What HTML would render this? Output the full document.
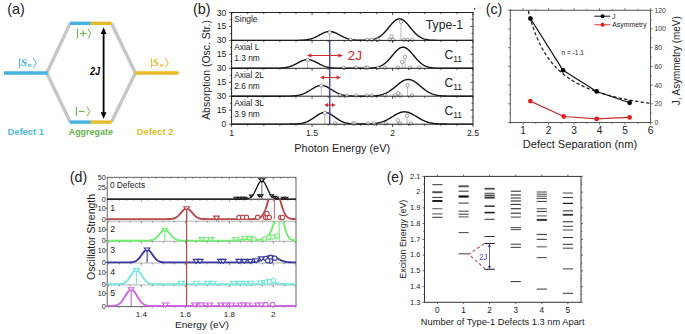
<!DOCTYPE html>
<html><head><meta charset="utf-8"><style>
html,body{margin:0;padding:0;background:#fff;}
svg{display:block;font-family:"Liberation Sans", sans-serif;}
</style></head><body>
<svg width="685" height="334" viewBox="0 0 685 334">
<rect width="685" height="334" fill="#fff"/>
<text x="7.30" y="14.30" font-size="14.5" fill="#222" text-anchor="start" textLength="17.6" lengthAdjust="spacingAndGlyphs">(a)</text>
<line x1="46.80" y1="73.00" x2="70.20" y2="23.30" stroke="#c6c6c6" stroke-width="3.4"/>
<line x1="46.80" y1="73.00" x2="70.20" y2="122.10" stroke="#c6c6c6" stroke-width="3.4"/>
<line x1="111.40" y1="23.30" x2="135.40" y2="73.00" stroke="#c6c6c6" stroke-width="3.4"/>
<line x1="111.40" y1="122.10" x2="135.40" y2="73.00" stroke="#c6c6c6" stroke-width="3.4"/>
<line x1="4.00" y1="73.00" x2="47.60" y2="73.00" stroke="#45b3e0" stroke-width="3.4"/>
<line x1="135.00" y1="73.00" x2="178.50" y2="73.00" stroke="#e6bb2a" stroke-width="3.4"/>
<line x1="69.80" y1="23.30" x2="90.80" y2="23.30" stroke="#45b3e0" stroke-width="3.4"/>
<line x1="90.80" y1="23.30" x2="111.60" y2="23.30" stroke="#e6bb2a" stroke-width="3.4"/>
<line x1="69.80" y1="122.10" x2="90.80" y2="122.10" stroke="#45b3e0" stroke-width="3.4"/>
<line x1="90.80" y1="122.10" x2="111.60" y2="122.10" stroke="#e6bb2a" stroke-width="3.4"/>
<line x1="103.60" y1="33.00" x2="103.60" y2="113.00" stroke="#000" stroke-width="1.8"/>
<polygon points="103.6,27.2 100.7,34.0 106.5,34.0" fill="#000"/>
<polygon points="103.6,119.0 100.7,112.2 106.5,112.2" fill="#000"/>
<text x="89.90" y="74.80" font-size="10" fill="#000" text-anchor="start" font-weight="bold" font-style="italic" textLength="10.2" lengthAdjust="spacingAndGlyphs">2J</text>
<line x1="77.50" y1="28.90" x2="77.50" y2="38.40" stroke="#6ab04c" stroke-width="1.1"/>
<line x1="79.90" y1="33.50" x2="86.50" y2="33.50" stroke="#6ab04c" stroke-width="1.1"/>
<line x1="83.20" y1="30.20" x2="83.20" y2="36.80" stroke="#6ab04c" stroke-width="1.1"/>
<polyline points="88.20,28.90 90.60,33.65 88.20,38.40" fill="none" stroke="#6ab04c" stroke-width="1.0" stroke-linejoin="miter"/>
<line x1="76.40" y1="106.70" x2="76.40" y2="116.10" stroke="#6ab04c" stroke-width="1.1"/>
<line x1="78.80" y1="111.40" x2="84.60" y2="111.40" stroke="#6ab04c" stroke-width="1.1"/>
<polyline points="86.90,106.70 89.90,111.40 86.90,116.10" fill="none" stroke="#6ab04c" stroke-width="1.0" stroke-linejoin="miter"/>
<line x1="19.60" y1="58.20" x2="19.60" y2="67.70" stroke="#45b3e0" stroke-width="1.1"/>
<text x="20.70" y="66.0" font-family="Liberation Serif" font-size="11.3" font-style="italic" font-weight="bold" fill="#45b3e0">S</text>
<text x="27.70" y="66.9" font-family="Liberation Serif" font-size="6.8" font-style="italic" font-weight="bold" fill="#45b3e0">n</text>
<polyline points="33.40,58.20 36.20,62.95 33.40,67.70" fill="none" stroke="#45b3e0" stroke-width="1.0" stroke-linejoin="miter"/>
<line x1="151.60" y1="58.20" x2="151.60" y2="67.70" stroke="#e6bb2a" stroke-width="1.1"/>
<text x="152.70" y="66.0" font-family="Liberation Serif" font-size="11.3" font-style="italic" font-weight="bold" fill="#e6bb2a">S</text>
<text x="159.70" y="66.9" font-family="Liberation Serif" font-size="6.8" font-style="italic" font-weight="bold" fill="#e6bb2a">n</text>
<polyline points="165.40,58.20 168.20,62.95 165.40,67.70" fill="none" stroke="#e6bb2a" stroke-width="1.0" stroke-linejoin="miter"/>
<text x="7.50" y="134.80" font-size="9.2" fill="#4cbcd8" text-anchor="start" font-weight="bold" textLength="36.5" lengthAdjust="spacingAndGlyphs">Defect 1</text>
<text x="68.70" y="134.90" font-size="9.2" fill="#6ab04c" text-anchor="start" font-weight="bold" textLength="44.2" lengthAdjust="spacingAndGlyphs">Aggregate</text>
<text x="136.80" y="135.00" font-size="9.2" fill="#d9bf2c" text-anchor="start" font-weight="bold" textLength="36.6" lengthAdjust="spacingAndGlyphs">Defect 2</text>
<text x="192.90" y="14.30" font-size="14.5" fill="#222" text-anchor="start" textLength="17.6" lengthAdjust="spacingAndGlyphs">(b)</text>
<line x1="329.60" y1="40.40" x2="329.60" y2="34.29" stroke="#b0b0b0" stroke-width="0.9"/>
<line x1="401.00" y1="40.40" x2="401.00" y2="23.51" stroke="#b0b0b0" stroke-width="0.9"/>
<line x1="391.50" y1="40.40" x2="391.50" y2="38.39" stroke="#b0b0b0" stroke-width="0.9"/>
<polyline points="231.60,40.40 232.40,40.40 233.21,40.40 234.01,40.40 234.82,40.40 235.62,40.40 236.43,40.40 237.23,40.40 238.04,40.40 238.84,40.40 239.65,40.40 240.45,40.40 241.26,40.40 242.06,40.40 242.87,40.40 243.67,40.40 244.47,40.40 245.28,40.40 246.08,40.40 246.89,40.40 247.69,40.40 248.50,40.40 249.30,40.40 250.11,40.40 250.91,40.40 251.72,40.40 252.52,40.40 253.33,40.40 254.13,40.40 254.94,40.40 255.74,40.40 256.54,40.40 257.35,40.40 258.15,40.40 258.96,40.40 259.76,40.40 260.57,40.40 261.37,40.40 262.18,40.40 262.98,40.40 263.79,40.40 264.59,40.40 265.40,40.40 266.20,40.40 267.01,40.40 267.81,40.40 268.61,40.40 269.42,40.40 270.22,40.40 271.03,40.40 271.83,40.40 272.64,40.40 273.44,40.40 274.25,40.40 275.05,40.40 275.86,40.40 276.66,40.40 277.47,40.40 278.27,40.40 279.08,40.40 279.88,40.40 280.68,40.40 281.49,40.40 282.29,40.40 283.10,40.40 283.90,40.40 284.71,40.40 285.51,40.40 286.32,40.40 287.12,40.40 287.93,40.40 288.73,40.40 289.54,40.40 290.34,40.40 291.15,40.39 291.95,40.39 292.75,40.39 293.56,40.39 294.36,40.38 295.17,40.38 295.97,40.37 296.78,40.36 297.58,40.35 298.39,40.33 299.19,40.31 300.00,40.29 300.80,40.26 301.61,40.23 302.41,40.18 303.22,40.13 304.02,40.07 304.82,39.99 305.63,39.90 306.43,39.80 307.24,39.68 308.04,39.53 308.85,39.37 309.65,39.19 310.46,38.98 311.26,38.75 312.07,38.49 312.87,38.21 313.68,37.90 314.48,37.57 315.29,37.21 316.09,36.83 316.89,36.43 317.70,36.02 318.50,35.59 319.31,35.15 320.11,34.72 320.92,34.29 321.72,33.86 322.53,33.46 323.33,33.07 324.14,32.71 324.94,32.39 325.75,32.11 326.55,31.88 327.36,31.70 328.16,31.56 328.96,31.49 329.77,31.47 330.57,31.51 331.38,31.61 332.18,31.77 332.99,31.97 333.79,32.23 334.60,32.52 335.40,32.86 336.21,33.23 337.01,33.62 337.82,34.04 338.62,34.47 339.43,34.90 340.23,35.34 341.03,35.77 341.84,36.19 342.64,36.60 343.45,36.99 344.25,37.36 345.06,37.71 345.86,38.03 346.67,38.33 347.47,38.60 348.28,38.85 349.08,39.07 349.89,39.27 350.69,39.44 351.50,39.60 352.30,39.73 353.10,39.84 353.91,39.94 354.71,40.02 355.52,40.09 356.32,40.15 357.13,40.19 357.93,40.23 358.74,40.26 359.54,40.28 360.35,40.30 361.15,40.31 361.96,40.31 362.76,40.31 363.57,40.30 364.37,40.29 365.17,40.27 365.98,40.24 366.78,40.20 367.59,40.16 368.39,40.10 369.20,40.03 370.00,39.94 370.81,39.84 371.61,39.71 372.42,39.56 373.22,39.39 374.03,39.18 374.83,38.95 375.64,38.67 376.44,38.36 377.24,38.00 378.05,37.59 378.85,37.14 379.66,36.63 380.46,36.07 381.27,35.45 382.07,34.78 382.88,34.06 383.68,33.28 384.49,32.45 385.29,31.58 386.10,30.67 386.90,29.72 387.71,28.75 388.51,27.77 389.31,26.78 390.12,25.79 390.92,24.83 391.73,23.89 392.53,23.00 393.34,22.17 394.14,21.40 394.95,20.72 395.75,20.13 396.56,19.64 397.36,19.26 398.17,18.99 398.97,18.85 399.78,18.83 400.58,18.94 401.38,19.16 402.19,19.50 402.99,19.96 403.80,20.52 404.60,21.18 405.41,21.92 406.21,22.73 407.02,23.60 407.82,24.53 408.63,25.48 409.43,26.46 410.24,27.45 411.04,28.44 411.85,29.42 412.65,30.37 413.45,31.30 414.26,32.18 415.06,33.03 415.87,33.82 416.67,34.56 417.48,35.25 418.28,35.88 419.09,36.46 419.89,36.98 420.70,37.45 421.50,37.87 422.31,38.25 423.11,38.58 423.92,38.86 424.72,39.11 425.52,39.33 426.33,39.51 427.13,39.67 427.94,39.80 428.74,39.91 429.55,40.01 430.35,40.08 431.16,40.15 431.96,40.20 432.77,40.24 433.57,40.27 434.38,40.30 435.18,40.32 435.99,40.34 436.79,40.35 437.59,40.37 438.40,40.37 439.20,40.38 440.01,40.39 440.81,40.39 441.62,40.39 442.42,40.39 443.23,40.40 444.03,40.40 444.84,40.40 445.64,40.40 446.45,40.40 447.25,40.40 448.06,40.40 448.86,40.40 449.66,40.40 450.47,40.40 451.27,40.40 452.08,40.40 452.88,40.40 453.69,40.40 454.49,40.40 455.30,40.40 456.10,40.40 456.91,40.40 457.71,40.40 458.52,40.40 459.32,40.40 460.13,40.40 460.93,40.40 461.73,40.40 462.54,40.40 463.34,40.40 464.15,40.40 464.95,40.40 465.76,40.40 466.56,40.40 467.37,40.40 468.17,40.40 468.98,40.40 469.78,40.40 470.59,40.40 471.39,40.40 472.20,40.40 473.00,40.40" fill="none" stroke="#111" stroke-width="1.4" stroke-linejoin="round"/>
<circle cx="329.60" cy="32.49" r="1.75" fill="#fff" stroke="#666" stroke-width="0.6"/>
<circle cx="401.00" cy="21.71" r="1.75" fill="#fff" stroke="#666" stroke-width="0.6"/>
<circle cx="391.50" cy="36.59" r="1.75" fill="#fff" stroke="#666" stroke-width="0.6"/>
<circle cx="350.70" cy="39.80" r="1.75" fill="#fff" stroke="#666" stroke-width="0.6"/>
<circle cx="367.20" cy="39.80" r="1.75" fill="#fff" stroke="#666" stroke-width="0.6"/>
<circle cx="371.70" cy="39.80" r="1.75" fill="#fff" stroke="#666" stroke-width="0.6"/>
<circle cx="378.00" cy="39.80" r="1.75" fill="#fff" stroke="#666" stroke-width="0.6"/>
<circle cx="389.70" cy="39.80" r="1.75" fill="#fff" stroke="#666" stroke-width="0.6"/>
<circle cx="393.30" cy="39.80" r="1.75" fill="#fff" stroke="#666" stroke-width="0.6"/>
<circle cx="404.00" cy="39.80" r="1.75" fill="#fff" stroke="#666" stroke-width="0.6"/>
<circle cx="407.60" cy="39.80" r="1.75" fill="#fff" stroke="#666" stroke-width="0.6"/>
<circle cx="412.10" cy="39.80" r="1.75" fill="#fff" stroke="#666" stroke-width="0.6"/>
<line x1="307.60" y1="68.30" x2="307.60" y2="61.73" stroke="#b0b0b0" stroke-width="0.9"/>
<line x1="405.00" y1="68.30" x2="405.00" y2="58.57" stroke="#b0b0b0" stroke-width="0.9"/>
<line x1="402.20" y1="68.30" x2="402.20" y2="63.68" stroke="#b0b0b0" stroke-width="0.9"/>
<polyline points="231.60,68.30 232.40,68.30 233.21,68.30 234.01,68.30 234.82,68.30 235.62,68.30 236.43,68.30 237.23,68.30 238.04,68.30 238.84,68.30 239.65,68.30 240.45,68.30 241.26,68.30 242.06,68.30 242.87,68.30 243.67,68.30 244.47,68.30 245.28,68.30 246.08,68.30 246.89,68.30 247.69,68.30 248.50,68.30 249.30,68.30 250.11,68.30 250.91,68.30 251.72,68.30 252.52,68.30 253.33,68.30 254.13,68.30 254.94,68.30 255.74,68.30 256.54,68.30 257.35,68.30 258.15,68.30 258.96,68.30 259.76,68.30 260.57,68.30 261.37,68.30 262.18,68.30 262.98,68.30 263.79,68.30 264.59,68.30 265.40,68.30 266.20,68.30 267.01,68.30 267.81,68.30 268.61,68.30 269.42,68.29 270.22,68.29 271.03,68.29 271.83,68.29 272.64,68.28 273.44,68.28 274.25,68.27 275.05,68.26 275.86,68.24 276.66,68.23 277.47,68.21 278.27,68.18 279.08,68.15 279.88,68.12 280.68,68.07 281.49,68.02 282.29,67.95 283.10,67.87 283.90,67.78 284.71,67.67 285.51,67.55 286.32,67.40 287.12,67.24 287.93,67.05 288.73,66.84 289.54,66.60 290.34,66.34 291.15,66.06 291.95,65.74 292.75,65.41 293.56,65.05 294.36,64.67 295.17,64.28 295.97,63.87 296.78,63.45 297.58,63.02 298.39,62.59 299.19,62.17 300.00,61.76 300.80,61.37 301.61,61.00 302.41,60.66 303.22,60.36 304.02,60.10 304.82,59.89 305.63,59.73 306.43,59.62 307.24,59.56 308.04,59.57 308.85,59.63 309.65,59.74 310.46,59.91 311.26,60.13 312.07,60.39 312.87,60.70 313.68,61.04 314.48,61.41 315.29,61.80 316.09,62.21 316.89,62.64 317.70,63.06 318.50,63.49 319.31,63.91 320.11,64.32 320.92,64.71 321.72,65.09 322.53,65.45 323.33,65.78 324.14,66.09 324.94,66.37 325.75,66.63 326.55,66.86 327.36,67.07 328.16,67.25 328.96,67.42 329.77,67.56 330.57,67.68 331.38,67.79 332.18,67.88 332.99,67.96 333.79,68.02 334.60,68.08 335.40,68.12 336.21,68.16 337.01,68.19 337.82,68.21 338.62,68.23 339.43,68.25 340.23,68.26 341.03,68.27 341.84,68.28 342.64,68.28 343.45,68.29 344.25,68.29 345.06,68.29 345.86,68.29 346.67,68.30 347.47,68.30 348.28,68.30 349.08,68.30 349.89,68.30 350.69,68.30 351.50,68.30 352.30,68.30 353.10,68.30 353.91,68.30 354.71,68.30 355.52,68.30 356.32,68.30 357.13,68.30 357.93,68.30 358.74,68.30 359.54,68.30 360.35,68.29 361.15,68.29 361.96,68.29 362.76,68.28 363.57,68.28 364.37,68.27 365.17,68.26 365.98,68.25 366.78,68.24 367.59,68.22 368.39,68.20 369.20,68.17 370.00,68.13 370.81,68.09 371.61,68.03 372.42,67.97 373.22,67.89 374.03,67.79 374.83,67.67 375.64,67.54 376.44,67.37 377.24,67.18 378.05,66.96 378.85,66.71 379.66,66.41 380.46,66.08 381.27,65.70 382.07,65.27 382.88,64.79 383.68,64.26 384.49,63.68 385.29,63.04 386.10,62.35 386.90,61.61 387.71,60.81 388.51,59.97 389.31,59.09 390.12,58.18 390.92,57.24 391.73,56.28 392.53,55.31 393.34,54.34 394.14,53.39 394.95,52.46 395.75,51.57 396.56,50.74 397.36,49.96 398.17,49.27 398.97,48.65 399.78,48.14 400.58,47.73 401.38,47.43 402.19,47.25 402.99,47.19 403.80,47.25 404.60,47.43 405.41,47.72 406.21,48.13 407.02,48.65 407.82,49.26 408.63,49.95 409.43,50.72 410.24,51.56 411.04,52.45 411.85,53.37 412.65,54.33 413.45,55.29 414.26,56.26 415.06,57.22 415.87,58.17 416.67,59.08 417.48,59.96 418.28,60.80 419.09,61.60 419.89,62.34 420.70,63.03 421.50,63.67 422.31,64.25 423.11,64.78 423.92,65.26 424.72,65.69 425.52,66.07 426.33,66.41 427.13,66.70 427.94,66.96 428.74,67.18 429.55,67.37 430.35,67.53 431.16,67.67 431.96,67.79 432.77,67.88 433.57,67.96 434.38,68.03 435.18,68.09 435.99,68.13 436.79,68.17 437.59,68.20 438.40,68.22 439.20,68.24 440.01,68.25 440.81,68.26 441.62,68.27 442.42,68.28 443.23,68.28 444.03,68.29 444.84,68.29 445.64,68.29 446.45,68.30 447.25,68.30 448.06,68.30 448.86,68.30 449.66,68.30 450.47,68.30 451.27,68.30 452.08,68.30 452.88,68.30 453.69,68.30 454.49,68.30 455.30,68.30 456.10,68.30 456.91,68.30 457.71,68.30 458.52,68.30 459.32,68.30 460.13,68.30 460.93,68.30 461.73,68.30 462.54,68.30 463.34,68.30 464.15,68.30 464.95,68.30 465.76,68.30 466.56,68.30 467.37,68.30 468.17,68.30 468.98,68.30 469.78,68.30 470.59,68.30 471.39,68.30 472.20,68.30 473.00,68.30" fill="none" stroke="#111" stroke-width="1.4" stroke-linejoin="round"/>
<circle cx="307.60" cy="59.93" r="1.75" fill="#fff" stroke="#666" stroke-width="0.6"/>
<circle cx="405.00" cy="56.77" r="1.75" fill="#fff" stroke="#666" stroke-width="0.6"/>
<circle cx="402.20" cy="61.88" r="1.75" fill="#fff" stroke="#666" stroke-width="0.6"/>
<circle cx="343.70" cy="67.70" r="1.75" fill="#fff" stroke="#666" stroke-width="0.6"/>
<circle cx="356.20" cy="67.70" r="1.75" fill="#fff" stroke="#666" stroke-width="0.6"/>
<circle cx="365.40" cy="67.70" r="1.75" fill="#fff" stroke="#666" stroke-width="0.6"/>
<circle cx="367.40" cy="67.70" r="1.75" fill="#fff" stroke="#666" stroke-width="0.6"/>
<circle cx="378.00" cy="67.70" r="1.75" fill="#fff" stroke="#666" stroke-width="0.6"/>
<circle cx="385.00" cy="67.70" r="1.75" fill="#fff" stroke="#666" stroke-width="0.6"/>
<circle cx="398.00" cy="67.70" r="1.75" fill="#fff" stroke="#666" stroke-width="0.6"/>
<circle cx="410.00" cy="67.70" r="1.75" fill="#fff" stroke="#666" stroke-width="0.6"/>
<circle cx="419.00" cy="67.70" r="1.75" fill="#fff" stroke="#666" stroke-width="0.6"/>
<line x1="321.30" y1="96.20" x2="321.30" y2="87.40" stroke="#b0b0b0" stroke-width="0.9"/>
<line x1="407.60" y1="96.20" x2="407.60" y2="87.03" stroke="#b0b0b0" stroke-width="0.9"/>
<line x1="398.10" y1="96.20" x2="398.10" y2="95.02" stroke="#b0b0b0" stroke-width="0.9"/>
<polyline points="231.60,96.20 232.40,96.20 233.21,96.20 234.01,96.20 234.82,96.20 235.62,96.20 236.43,96.20 237.23,96.20 238.04,96.20 238.84,96.20 239.65,96.20 240.45,96.20 241.26,96.20 242.06,96.20 242.87,96.20 243.67,96.20 244.47,96.20 245.28,96.20 246.08,96.20 246.89,96.20 247.69,96.20 248.50,96.20 249.30,96.20 250.11,96.20 250.91,96.20 251.72,96.20 252.52,96.20 253.33,96.20 254.13,96.20 254.94,96.20 255.74,96.20 256.54,96.20 257.35,96.20 258.15,96.20 258.96,96.20 259.76,96.20 260.57,96.20 261.37,96.20 262.18,96.20 262.98,96.20 263.79,96.20 264.59,96.20 265.40,96.20 266.20,96.20 267.01,96.20 267.81,96.20 268.61,96.20 269.42,96.20 270.22,96.20 271.03,96.20 271.83,96.20 272.64,96.20 273.44,96.20 274.25,96.20 275.05,96.20 275.86,96.20 276.66,96.20 277.47,96.20 278.27,96.20 279.08,96.20 279.88,96.20 280.68,96.20 281.49,96.19 282.29,96.19 283.10,96.19 283.90,96.19 284.71,96.18 285.51,96.17 286.32,96.17 287.12,96.16 287.93,96.14 288.73,96.13 289.54,96.11 290.34,96.08 291.15,96.05 291.95,96.01 292.75,95.97 293.56,95.91 294.36,95.85 295.17,95.77 295.97,95.68 296.78,95.57 297.58,95.44 298.39,95.29 299.19,95.12 300.00,94.93 300.80,94.71 301.61,94.47 302.41,94.19 303.22,93.89 304.02,93.56 304.82,93.20 305.63,92.81 306.43,92.39 307.24,91.95 308.04,91.49 308.85,91.01 309.65,90.51 310.46,90.00 311.26,89.49 312.07,88.98 312.87,88.48 313.68,88.00 314.48,87.54 315.29,87.10 316.09,86.71 316.89,86.35 317.70,86.05 318.50,85.80 319.31,85.61 320.11,85.48 320.92,85.42 321.72,85.42 322.53,85.49 323.33,85.62 324.14,85.81 324.94,86.07 325.75,86.37 326.55,86.73 327.36,87.12 328.16,87.56 328.96,88.02 329.77,88.51 330.57,89.01 331.38,89.52 332.18,90.03 332.99,90.53 333.79,91.03 334.60,91.51 335.40,91.97 336.21,92.41 337.01,92.83 337.82,93.22 338.62,93.58 339.43,93.91 340.23,94.21 341.03,94.48 341.84,94.72 342.64,94.94 343.45,95.13 344.25,95.30 345.06,95.45 345.86,95.57 346.67,95.68 347.47,95.77 348.28,95.85 349.08,95.92 349.89,95.97 350.69,96.02 351.50,96.05 352.30,96.08 353.10,96.11 353.91,96.13 354.71,96.14 355.52,96.16 356.32,96.17 357.13,96.17 357.93,96.18 358.74,96.18 359.54,96.18 360.35,96.19 361.15,96.19 361.96,96.18 362.76,96.18 363.57,96.18 364.37,96.18 365.17,96.17 365.98,96.16 366.78,96.15 367.59,96.14 368.39,96.13 369.20,96.11 370.00,96.09 370.81,96.06 371.61,96.03 372.42,95.99 373.22,95.95 374.03,95.90 374.83,95.83 375.64,95.76 376.44,95.67 377.24,95.58 378.05,95.46 378.85,95.33 379.66,95.18 380.46,95.01 381.27,94.81 382.07,94.59 382.88,94.35 383.68,94.07 384.49,93.77 385.29,93.44 386.10,93.07 386.90,92.67 387.71,92.24 388.51,91.78 389.31,91.28 390.12,90.75 390.92,90.19 391.73,89.60 392.53,88.99 393.34,88.36 394.14,87.70 394.95,87.04 395.75,86.36 396.56,85.69 397.36,85.01 398.17,84.35 398.97,83.70 399.78,83.08 400.58,82.48 401.38,81.93 402.19,81.41 402.99,80.95 403.80,80.54 404.60,80.19 405.41,79.90 406.21,79.69 407.02,79.54 407.82,79.47 408.63,79.47 409.43,79.55 410.24,79.70 411.04,79.92 411.85,80.21 412.65,80.56 413.45,80.97 414.26,81.44 415.06,81.96 415.87,82.52 416.67,83.12 417.48,83.74 418.28,84.39 419.09,85.06 419.89,85.73 420.70,86.41 421.50,87.08 422.31,87.74 423.11,88.40 423.92,89.03 424.72,89.64 425.52,90.22 426.33,90.78 427.13,91.31 427.94,91.80 428.74,92.27 429.55,92.70 430.35,93.09 431.16,93.46 431.96,93.79 432.77,94.09 433.57,94.36 434.38,94.61 435.18,94.82 435.99,95.02 436.79,95.19 437.59,95.34 438.40,95.47 439.20,95.58 440.01,95.68 440.81,95.77 441.62,95.84 442.42,95.90 443.23,95.95 444.03,96.00 444.84,96.03 445.64,96.06 446.45,96.09 447.25,96.11 448.06,96.13 448.86,96.14 449.66,96.15 450.47,96.16 451.27,96.17 452.08,96.18 452.88,96.18 453.69,96.19 454.49,96.19 455.30,96.19 456.10,96.19 456.91,96.20 457.71,96.20 458.52,96.20 459.32,96.20 460.13,96.20 460.93,96.20 461.73,96.20 462.54,96.20 463.34,96.20 464.15,96.20 464.95,96.20 465.76,96.20 466.56,96.20 467.37,96.20 468.17,96.20 468.98,96.20 469.78,96.20 470.59,96.20 471.39,96.20 472.20,96.20 473.00,96.20" fill="none" stroke="#111" stroke-width="1.4" stroke-linejoin="round"/>
<circle cx="321.30" cy="85.60" r="1.75" fill="#fff" stroke="#666" stroke-width="0.6"/>
<circle cx="407.60" cy="85.23" r="1.75" fill="#fff" stroke="#666" stroke-width="0.6"/>
<circle cx="398.10" cy="93.22" r="1.75" fill="#fff" stroke="#666" stroke-width="0.6"/>
<circle cx="340.00" cy="95.60" r="1.75" fill="#fff" stroke="#666" stroke-width="0.6"/>
<circle cx="346.90" cy="95.60" r="1.75" fill="#fff" stroke="#666" stroke-width="0.6"/>
<circle cx="356.40" cy="95.60" r="1.75" fill="#fff" stroke="#666" stroke-width="0.6"/>
<circle cx="366.90" cy="95.60" r="1.75" fill="#fff" stroke="#666" stroke-width="0.6"/>
<circle cx="371.70" cy="95.60" r="1.75" fill="#fff" stroke="#666" stroke-width="0.6"/>
<circle cx="385.20" cy="95.60" r="1.75" fill="#fff" stroke="#666" stroke-width="0.6"/>
<circle cx="395.00" cy="95.60" r="1.75" fill="#fff" stroke="#666" stroke-width="0.6"/>
<circle cx="400.40" cy="95.60" r="1.75" fill="#fff" stroke="#666" stroke-width="0.6"/>
<circle cx="411.80" cy="95.60" r="1.75" fill="#fff" stroke="#666" stroke-width="0.6"/>
<line x1="324.80" y1="124.10" x2="324.80" y2="114.74" stroke="#b0b0b0" stroke-width="0.9"/>
<line x1="407.10" y1="124.10" x2="407.10" y2="117.53" stroke="#b0b0b0" stroke-width="0.9"/>
<line x1="397.80" y1="124.10" x2="397.80" y2="121.90" stroke="#b0b0b0" stroke-width="0.9"/>
<polyline points="231.60,124.10 232.40,124.10 233.21,124.10 234.01,124.10 234.82,124.10 235.62,124.10 236.43,124.10 237.23,124.10 238.04,124.10 238.84,124.10 239.65,124.10 240.45,124.10 241.26,124.10 242.06,124.10 242.87,124.10 243.67,124.10 244.47,124.10 245.28,124.10 246.08,124.10 246.89,124.10 247.69,124.10 248.50,124.10 249.30,124.10 250.11,124.10 250.91,124.10 251.72,124.10 252.52,124.10 253.33,124.10 254.13,124.10 254.94,124.10 255.74,124.10 256.54,124.10 257.35,124.10 258.15,124.10 258.96,124.10 259.76,124.10 260.57,124.10 261.37,124.10 262.18,124.10 262.98,124.10 263.79,124.10 264.59,124.10 265.40,124.10 266.20,124.10 267.01,124.10 267.81,124.10 268.61,124.10 269.42,124.10 270.22,124.10 271.03,124.10 271.83,124.10 272.64,124.10 273.44,124.10 274.25,124.10 275.05,124.10 275.86,124.10 276.66,124.10 277.47,124.10 278.27,124.10 279.08,124.10 279.88,124.10 280.68,124.10 281.49,124.10 282.29,124.10 283.10,124.10 283.90,124.10 284.71,124.10 285.51,124.10 286.32,124.09 287.12,124.09 287.93,124.09 288.73,124.08 289.54,124.08 290.34,124.07 291.15,124.06 291.95,124.05 292.75,124.03 293.56,124.01 294.36,123.99 295.17,123.96 295.97,123.92 296.78,123.87 297.58,123.82 298.39,123.75 299.19,123.67 300.00,123.57 300.80,123.46 301.61,123.32 302.41,123.16 303.22,122.98 304.02,122.77 304.82,122.53 305.63,122.26 306.43,121.96 307.24,121.63 308.04,121.26 308.85,120.86 309.65,120.43 310.46,119.96 311.26,119.47 312.07,118.95 312.87,118.41 313.68,117.86 314.48,117.29 315.29,116.72 316.09,116.16 316.89,115.61 317.70,115.08 318.50,114.57 319.31,114.11 320.11,113.69 320.92,113.32 321.72,113.01 322.53,112.77 323.33,112.60 324.14,112.50 324.94,112.48 325.75,112.53 326.55,112.65 327.36,112.85 328.16,113.12 328.96,113.44 329.77,113.83 330.57,114.27 331.38,114.75 332.18,115.26 332.99,115.80 333.79,116.36 334.60,116.92 335.40,117.49 336.21,118.05 337.01,118.60 337.82,119.14 338.62,119.65 339.43,120.13 340.23,120.58 341.03,121.01 341.84,121.40 342.64,121.75 343.45,122.07 344.25,122.36 345.06,122.62 345.86,122.85 346.67,123.05 347.47,123.22 348.28,123.37 349.08,123.50 349.89,123.61 350.69,123.70 351.50,123.77 352.30,123.84 353.10,123.89 353.91,123.93 354.71,123.97 355.52,124.00 356.32,124.02 357.13,124.03 357.93,124.05 358.74,124.05 359.54,124.06 360.35,124.06 361.15,124.07 361.96,124.06 362.76,124.06 363.57,124.05 364.37,124.05 365.17,124.04 365.98,124.02 366.78,124.01 367.59,123.98 368.39,123.96 369.20,123.93 370.00,123.89 370.81,123.85 371.61,123.80 372.42,123.74 373.22,123.67 374.03,123.59 374.83,123.50 375.64,123.40 376.44,123.28 377.24,123.14 378.05,122.99 378.85,122.82 379.66,122.62 380.46,122.41 381.27,122.17 382.07,121.92 382.88,121.63 383.68,121.33 384.49,121.00 385.29,120.64 386.10,120.26 386.90,119.86 387.71,119.44 388.51,119.00 389.31,118.54 390.12,118.06 390.92,117.58 391.73,117.09 392.53,116.59 393.34,116.10 394.14,115.61 394.95,115.12 395.75,114.66 396.56,114.21 397.36,113.79 398.17,113.40 398.97,113.05 399.78,112.73 400.58,112.45 401.38,112.23 402.19,112.05 402.99,111.92 403.80,111.84 404.60,111.82 405.41,111.86 406.21,111.95 407.02,112.09 407.82,112.28 408.63,112.52 409.43,112.81 410.24,113.13 411.04,113.50 411.85,113.90 412.65,114.33 413.45,114.78 414.26,115.25 415.06,115.73 415.87,116.22 416.67,116.72 417.48,117.21 418.28,117.70 419.09,118.19 419.89,118.66 420.70,119.11 421.50,119.55 422.31,119.96 423.11,120.36 423.92,120.73 424.72,121.08 425.52,121.41 426.33,121.71 427.13,121.98 427.94,122.24 428.74,122.47 429.55,122.67 430.35,122.86 431.16,123.03 431.96,123.18 432.77,123.31 433.57,123.42 434.38,123.53 435.18,123.61 435.99,123.69 436.79,123.76 437.59,123.81 438.40,123.86 439.20,123.90 440.01,123.94 440.81,123.97 441.62,123.99 442.42,124.01 443.23,124.03 444.03,124.04 444.84,124.05 445.64,124.06 446.45,124.07 447.25,124.08 448.06,124.08 448.86,124.09 449.66,124.09 450.47,124.09 451.27,124.09 452.08,124.09 452.88,124.10 453.69,124.10 454.49,124.10 455.30,124.10 456.10,124.10 456.91,124.10 457.71,124.10 458.52,124.10 459.32,124.10 460.13,124.10 460.93,124.10 461.73,124.10 462.54,124.10 463.34,124.10 464.15,124.10 464.95,124.10 465.76,124.10 466.56,124.10 467.37,124.10 468.17,124.10 468.98,124.10 469.78,124.10 470.59,124.10 471.39,124.10 472.20,124.10 473.00,124.10" fill="none" stroke="#111" stroke-width="1.4" stroke-linejoin="round"/>
<circle cx="324.80" cy="112.94" r="1.75" fill="#fff" stroke="#666" stroke-width="0.6"/>
<circle cx="407.10" cy="115.73" r="1.75" fill="#fff" stroke="#666" stroke-width="0.6"/>
<circle cx="397.80" cy="120.10" r="1.75" fill="#fff" stroke="#666" stroke-width="0.6"/>
<circle cx="335.20" cy="123.50" r="1.75" fill="#fff" stroke="#666" stroke-width="0.6"/>
<circle cx="353.00" cy="123.50" r="1.75" fill="#fff" stroke="#666" stroke-width="0.6"/>
<circle cx="354.70" cy="123.50" r="1.75" fill="#fff" stroke="#666" stroke-width="0.6"/>
<circle cx="368.00" cy="123.50" r="1.75" fill="#fff" stroke="#666" stroke-width="0.6"/>
<circle cx="374.00" cy="123.50" r="1.75" fill="#fff" stroke="#666" stroke-width="0.6"/>
<circle cx="386.00" cy="123.50" r="1.75" fill="#fff" stroke="#666" stroke-width="0.6"/>
<circle cx="400.00" cy="123.50" r="1.75" fill="#fff" stroke="#666" stroke-width="0.6"/>
<circle cx="411.00" cy="123.50" r="1.75" fill="#fff" stroke="#666" stroke-width="0.6"/>
<line x1="329.77" y1="40.40" x2="329.77" y2="124.20" stroke="#3434c4" stroke-width="1.3"/>
<rect x="231.6" y="12.5" width="241.4" height="111.7" fill="none" stroke="#222" stroke-width="1"/>
<line x1="231.60" y1="40.40" x2="473.00" y2="40.40" stroke="#222" stroke-width="1"/>
<line x1="231.60" y1="68.30" x2="473.00" y2="68.30" stroke="#222" stroke-width="1"/>
<line x1="231.60" y1="96.20" x2="473.00" y2="96.20" stroke="#222" stroke-width="1"/>
<line x1="231.60" y1="12.50" x2="231.60" y2="15.00" stroke="#222" stroke-width="0.8"/>
<line x1="247.69" y1="12.50" x2="247.69" y2="14.10" stroke="#222" stroke-width="0.8"/>
<line x1="263.79" y1="12.50" x2="263.79" y2="14.10" stroke="#222" stroke-width="0.8"/>
<line x1="279.88" y1="12.50" x2="279.88" y2="14.10" stroke="#222" stroke-width="0.8"/>
<line x1="295.97" y1="12.50" x2="295.97" y2="14.10" stroke="#222" stroke-width="0.8"/>
<line x1="312.07" y1="12.50" x2="312.07" y2="15.00" stroke="#222" stroke-width="0.8"/>
<line x1="328.16" y1="12.50" x2="328.16" y2="14.10" stroke="#222" stroke-width="0.8"/>
<line x1="344.25" y1="12.50" x2="344.25" y2="14.10" stroke="#222" stroke-width="0.8"/>
<line x1="360.35" y1="12.50" x2="360.35" y2="14.10" stroke="#222" stroke-width="0.8"/>
<line x1="376.44" y1="12.50" x2="376.44" y2="14.10" stroke="#222" stroke-width="0.8"/>
<line x1="392.53" y1="12.50" x2="392.53" y2="15.00" stroke="#222" stroke-width="0.8"/>
<line x1="408.63" y1="12.50" x2="408.63" y2="14.10" stroke="#222" stroke-width="0.8"/>
<line x1="424.72" y1="12.50" x2="424.72" y2="14.10" stroke="#222" stroke-width="0.8"/>
<line x1="440.81" y1="12.50" x2="440.81" y2="14.10" stroke="#222" stroke-width="0.8"/>
<line x1="456.91" y1="12.50" x2="456.91" y2="14.10" stroke="#222" stroke-width="0.8"/>
<line x1="473.00" y1="12.50" x2="473.00" y2="15.00" stroke="#222" stroke-width="0.8"/>
<line x1="230.10" y1="33.42" x2="231.60" y2="33.42" stroke="#222" stroke-width="0.8"/>
<line x1="473.00" y1="33.42" x2="471.50" y2="33.42" stroke="#222" stroke-width="0.8"/>
<line x1="229.00" y1="26.45" x2="231.60" y2="26.45" stroke="#222" stroke-width="0.8"/>
<line x1="473.00" y1="26.45" x2="470.40" y2="26.45" stroke="#222" stroke-width="0.8"/>
<line x1="230.10" y1="19.47" x2="231.60" y2="19.47" stroke="#222" stroke-width="0.8"/>
<line x1="473.00" y1="19.47" x2="471.50" y2="19.47" stroke="#222" stroke-width="0.8"/>
<line x1="229.00" y1="12.50" x2="231.60" y2="12.50" stroke="#222" stroke-width="0.8"/>
<line x1="473.00" y1="12.50" x2="470.40" y2="12.50" stroke="#222" stroke-width="0.8"/>
<text x="226.20" y="15.50" font-size="8.6" fill="#222" text-anchor="end">30</text>
<text x="226.20" y="29.45" font-size="8.6" fill="#222" text-anchor="end">15</text>
<line x1="231.60" y1="40.40" x2="231.60" y2="42.90" stroke="#222" stroke-width="0.8"/>
<line x1="247.69" y1="40.40" x2="247.69" y2="42.00" stroke="#222" stroke-width="0.8"/>
<line x1="263.79" y1="40.40" x2="263.79" y2="42.00" stroke="#222" stroke-width="0.8"/>
<line x1="279.88" y1="40.40" x2="279.88" y2="42.00" stroke="#222" stroke-width="0.8"/>
<line x1="295.97" y1="40.40" x2="295.97" y2="42.00" stroke="#222" stroke-width="0.8"/>
<line x1="312.07" y1="40.40" x2="312.07" y2="42.90" stroke="#222" stroke-width="0.8"/>
<line x1="328.16" y1="40.40" x2="328.16" y2="42.00" stroke="#222" stroke-width="0.8"/>
<line x1="344.25" y1="40.40" x2="344.25" y2="42.00" stroke="#222" stroke-width="0.8"/>
<line x1="360.35" y1="40.40" x2="360.35" y2="42.00" stroke="#222" stroke-width="0.8"/>
<line x1="376.44" y1="40.40" x2="376.44" y2="42.00" stroke="#222" stroke-width="0.8"/>
<line x1="392.53" y1="40.40" x2="392.53" y2="42.90" stroke="#222" stroke-width="0.8"/>
<line x1="408.63" y1="40.40" x2="408.63" y2="42.00" stroke="#222" stroke-width="0.8"/>
<line x1="424.72" y1="40.40" x2="424.72" y2="42.00" stroke="#222" stroke-width="0.8"/>
<line x1="440.81" y1="40.40" x2="440.81" y2="42.00" stroke="#222" stroke-width="0.8"/>
<line x1="456.91" y1="40.40" x2="456.91" y2="42.00" stroke="#222" stroke-width="0.8"/>
<line x1="473.00" y1="40.40" x2="473.00" y2="42.90" stroke="#222" stroke-width="0.8"/>
<line x1="230.10" y1="61.32" x2="231.60" y2="61.32" stroke="#222" stroke-width="0.8"/>
<line x1="473.00" y1="61.32" x2="471.50" y2="61.32" stroke="#222" stroke-width="0.8"/>
<line x1="229.00" y1="54.35" x2="231.60" y2="54.35" stroke="#222" stroke-width="0.8"/>
<line x1="473.00" y1="54.35" x2="470.40" y2="54.35" stroke="#222" stroke-width="0.8"/>
<line x1="230.10" y1="47.38" x2="231.60" y2="47.38" stroke="#222" stroke-width="0.8"/>
<line x1="473.00" y1="47.38" x2="471.50" y2="47.38" stroke="#222" stroke-width="0.8"/>
<line x1="229.00" y1="40.40" x2="231.60" y2="40.40" stroke="#222" stroke-width="0.8"/>
<line x1="473.00" y1="40.40" x2="470.40" y2="40.40" stroke="#222" stroke-width="0.8"/>
<text x="226.20" y="43.40" font-size="8.6" fill="#222" text-anchor="end">30</text>
<text x="226.20" y="57.35" font-size="8.6" fill="#222" text-anchor="end">15</text>
<line x1="231.60" y1="68.30" x2="231.60" y2="70.80" stroke="#222" stroke-width="0.8"/>
<line x1="247.69" y1="68.30" x2="247.69" y2="69.90" stroke="#222" stroke-width="0.8"/>
<line x1="263.79" y1="68.30" x2="263.79" y2="69.90" stroke="#222" stroke-width="0.8"/>
<line x1="279.88" y1="68.30" x2="279.88" y2="69.90" stroke="#222" stroke-width="0.8"/>
<line x1="295.97" y1="68.30" x2="295.97" y2="69.90" stroke="#222" stroke-width="0.8"/>
<line x1="312.07" y1="68.30" x2="312.07" y2="70.80" stroke="#222" stroke-width="0.8"/>
<line x1="328.16" y1="68.30" x2="328.16" y2="69.90" stroke="#222" stroke-width="0.8"/>
<line x1="344.25" y1="68.30" x2="344.25" y2="69.90" stroke="#222" stroke-width="0.8"/>
<line x1="360.35" y1="68.30" x2="360.35" y2="69.90" stroke="#222" stroke-width="0.8"/>
<line x1="376.44" y1="68.30" x2="376.44" y2="69.90" stroke="#222" stroke-width="0.8"/>
<line x1="392.53" y1="68.30" x2="392.53" y2="70.80" stroke="#222" stroke-width="0.8"/>
<line x1="408.63" y1="68.30" x2="408.63" y2="69.90" stroke="#222" stroke-width="0.8"/>
<line x1="424.72" y1="68.30" x2="424.72" y2="69.90" stroke="#222" stroke-width="0.8"/>
<line x1="440.81" y1="68.30" x2="440.81" y2="69.90" stroke="#222" stroke-width="0.8"/>
<line x1="456.91" y1="68.30" x2="456.91" y2="69.90" stroke="#222" stroke-width="0.8"/>
<line x1="473.00" y1="68.30" x2="473.00" y2="70.80" stroke="#222" stroke-width="0.8"/>
<line x1="230.10" y1="89.22" x2="231.60" y2="89.22" stroke="#222" stroke-width="0.8"/>
<line x1="473.00" y1="89.22" x2="471.50" y2="89.22" stroke="#222" stroke-width="0.8"/>
<line x1="229.00" y1="82.25" x2="231.60" y2="82.25" stroke="#222" stroke-width="0.8"/>
<line x1="473.00" y1="82.25" x2="470.40" y2="82.25" stroke="#222" stroke-width="0.8"/>
<line x1="230.10" y1="75.27" x2="231.60" y2="75.27" stroke="#222" stroke-width="0.8"/>
<line x1="473.00" y1="75.27" x2="471.50" y2="75.27" stroke="#222" stroke-width="0.8"/>
<line x1="229.00" y1="68.30" x2="231.60" y2="68.30" stroke="#222" stroke-width="0.8"/>
<line x1="473.00" y1="68.30" x2="470.40" y2="68.30" stroke="#222" stroke-width="0.8"/>
<text x="226.20" y="71.30" font-size="8.6" fill="#222" text-anchor="end">30</text>
<text x="226.20" y="85.25" font-size="8.6" fill="#222" text-anchor="end">15</text>
<line x1="231.60" y1="96.20" x2="231.60" y2="98.70" stroke="#222" stroke-width="0.8"/>
<line x1="247.69" y1="96.20" x2="247.69" y2="97.80" stroke="#222" stroke-width="0.8"/>
<line x1="263.79" y1="96.20" x2="263.79" y2="97.80" stroke="#222" stroke-width="0.8"/>
<line x1="279.88" y1="96.20" x2="279.88" y2="97.80" stroke="#222" stroke-width="0.8"/>
<line x1="295.97" y1="96.20" x2="295.97" y2="97.80" stroke="#222" stroke-width="0.8"/>
<line x1="312.07" y1="96.20" x2="312.07" y2="98.70" stroke="#222" stroke-width="0.8"/>
<line x1="328.16" y1="96.20" x2="328.16" y2="97.80" stroke="#222" stroke-width="0.8"/>
<line x1="344.25" y1="96.20" x2="344.25" y2="97.80" stroke="#222" stroke-width="0.8"/>
<line x1="360.35" y1="96.20" x2="360.35" y2="97.80" stroke="#222" stroke-width="0.8"/>
<line x1="376.44" y1="96.20" x2="376.44" y2="97.80" stroke="#222" stroke-width="0.8"/>
<line x1="392.53" y1="96.20" x2="392.53" y2="98.70" stroke="#222" stroke-width="0.8"/>
<line x1="408.63" y1="96.20" x2="408.63" y2="97.80" stroke="#222" stroke-width="0.8"/>
<line x1="424.72" y1="96.20" x2="424.72" y2="97.80" stroke="#222" stroke-width="0.8"/>
<line x1="440.81" y1="96.20" x2="440.81" y2="97.80" stroke="#222" stroke-width="0.8"/>
<line x1="456.91" y1="96.20" x2="456.91" y2="97.80" stroke="#222" stroke-width="0.8"/>
<line x1="473.00" y1="96.20" x2="473.00" y2="98.70" stroke="#222" stroke-width="0.8"/>
<line x1="230.10" y1="117.12" x2="231.60" y2="117.12" stroke="#222" stroke-width="0.8"/>
<line x1="473.00" y1="117.12" x2="471.50" y2="117.12" stroke="#222" stroke-width="0.8"/>
<line x1="229.00" y1="110.15" x2="231.60" y2="110.15" stroke="#222" stroke-width="0.8"/>
<line x1="473.00" y1="110.15" x2="470.40" y2="110.15" stroke="#222" stroke-width="0.8"/>
<line x1="230.10" y1="103.17" x2="231.60" y2="103.17" stroke="#222" stroke-width="0.8"/>
<line x1="473.00" y1="103.17" x2="471.50" y2="103.17" stroke="#222" stroke-width="0.8"/>
<line x1="229.00" y1="96.20" x2="231.60" y2="96.20" stroke="#222" stroke-width="0.8"/>
<line x1="473.00" y1="96.20" x2="470.40" y2="96.20" stroke="#222" stroke-width="0.8"/>
<text x="226.20" y="99.20" font-size="8.6" fill="#222" text-anchor="end">30</text>
<text x="226.20" y="113.15" font-size="8.6" fill="#222" text-anchor="end">15</text>
<text x="226.20" y="127.20" font-size="8.6" fill="#222" text-anchor="end">0</text>
<line x1="229.00" y1="124.20" x2="231.60" y2="124.20" stroke="#222" stroke-width="0.8"/>
<line x1="231.60" y1="124.20" x2="231.60" y2="127.00" stroke="#222" stroke-width="0.8"/>
<line x1="247.69" y1="124.20" x2="247.69" y2="125.80" stroke="#222" stroke-width="0.8"/>
<line x1="263.79" y1="124.20" x2="263.79" y2="125.80" stroke="#222" stroke-width="0.8"/>
<line x1="279.88" y1="124.20" x2="279.88" y2="125.80" stroke="#222" stroke-width="0.8"/>
<line x1="295.97" y1="124.20" x2="295.97" y2="125.80" stroke="#222" stroke-width="0.8"/>
<line x1="312.07" y1="124.20" x2="312.07" y2="127.00" stroke="#222" stroke-width="0.8"/>
<line x1="328.16" y1="124.20" x2="328.16" y2="125.80" stroke="#222" stroke-width="0.8"/>
<line x1="344.25" y1="124.20" x2="344.25" y2="125.80" stroke="#222" stroke-width="0.8"/>
<line x1="360.35" y1="124.20" x2="360.35" y2="125.80" stroke="#222" stroke-width="0.8"/>
<line x1="376.44" y1="124.20" x2="376.44" y2="125.80" stroke="#222" stroke-width="0.8"/>
<line x1="392.53" y1="124.20" x2="392.53" y2="127.00" stroke="#222" stroke-width="0.8"/>
<line x1="408.63" y1="124.20" x2="408.63" y2="125.80" stroke="#222" stroke-width="0.8"/>
<line x1="424.72" y1="124.20" x2="424.72" y2="125.80" stroke="#222" stroke-width="0.8"/>
<line x1="440.81" y1="124.20" x2="440.81" y2="125.80" stroke="#222" stroke-width="0.8"/>
<line x1="456.91" y1="124.20" x2="456.91" y2="125.80" stroke="#222" stroke-width="0.8"/>
<line x1="473.00" y1="124.20" x2="473.00" y2="127.00" stroke="#222" stroke-width="0.8"/>
<text x="231.60" y="135.80" font-size="8.6" fill="#222" text-anchor="middle">1</text>
<text x="312.07" y="135.80" font-size="8.6" fill="#222" text-anchor="middle">1.5</text>
<text x="392.53" y="135.80" font-size="8.6" fill="#222" text-anchor="middle">2</text>
<text x="473.00" y="135.80" font-size="8.6" fill="#222" text-anchor="middle">2.5</text>
<text x="342.20" y="151.50" font-size="10.8" fill="#222" text-anchor="middle" textLength="95.7" lengthAdjust="spacingAndGlyphs">Photon Energy (eV)</text>
<text transform="translate(209.5,70) rotate(-90)" font-size="10.1" fill="#222" text-anchor="middle" textLength="99.7" lengthAdjust="spacingAndGlyphs">Absorption (Osc. Str.)</text>
<text x="234.20" y="22.30" font-size="8.4" fill="#222" text-anchor="start">Single</text>
<text x="234.20" y="50.20" font-size="8.4" fill="#222" text-anchor="start">Axial L</text>
<text x="234.20" y="61.40" font-size="8.4" fill="#222" text-anchor="start">1.3 nm</text>
<text x="234.20" y="78.10" font-size="8.4" fill="#222" text-anchor="start">Axial 2L</text>
<text x="234.20" y="89.30" font-size="8.4" fill="#222" text-anchor="start">2.6 nm</text>
<text x="234.20" y="106.00" font-size="8.4" fill="#222" text-anchor="start">Axial 3L</text>
<text x="234.20" y="117.20" font-size="8.4" fill="#222" text-anchor="start">3.9 nm</text>
<text x="425.80" y="29.00" font-size="12" fill="#222" text-anchor="start" textLength="37.2" lengthAdjust="spacingAndGlyphs">Type-1</text>
<text x="444.50" y="58.90" font-size="12" fill="#222" text-anchor="start">C<tspan font-size="8.5" dy="3">11</tspan></text>
<text x="444.50" y="86.80" font-size="12" fill="#222" text-anchor="start">C<tspan font-size="8.5" dy="3">11</tspan></text>
<text x="444.50" y="114.70" font-size="12" fill="#222" text-anchor="start">C<tspan font-size="8.5" dy="3">11</tspan></text>
<line x1="309.60" y1="55.50" x2="340.10" y2="55.50" stroke="#d42a2a" stroke-width="1.0"/>
<polygon points="306.9,55.5 311.4,53.5 311.4,57.5" fill="#d42a2a"/>
<polygon points="342.8,55.5 338.3,53.5 338.3,57.5" fill="#d42a2a"/>
<line x1="322.52" y1="77.60" x2="338.28" y2="77.60" stroke="#d42a2a" stroke-width="1.0"/>
<polygon points="320.0,77.6 324.2,75.6 324.2,79.6" fill="#d42a2a"/>
<polygon points="340.8,77.6 336.6,75.6 336.6,79.6" fill="#d42a2a"/>
<line x1="326.46" y1="105.00" x2="333.44" y2="105.00" stroke="#d42a2a" stroke-width="1.0"/>
<polygon points="324.3,105.0 327.90000000000003,103.1 327.90000000000003,106.9" fill="#d42a2a"/>
<polygon points="335.6,105.0 332.0,103.1 332.0,106.9" fill="#d42a2a"/>
<text x="347.60" y="59.70" font-size="13.2" fill="#d42a2a" text-anchor="start" textLength="14.5" lengthAdjust="spacingAndGlyphs">2J</text>
<circle cx="474.6" cy="8.9" r="0.8" fill="#333"/>
<line x1="477.60" y1="8.00" x2="481.00" y2="8.00" stroke="#d8d8d8" stroke-width="0.8"/>
<text x="485.70" y="14.20" font-size="14.5" fill="#222" text-anchor="start" textLength="16.6" lengthAdjust="spacingAndGlyphs">(c)</text>
<rect x="510.3" y="10.3" width="140.2" height="112.2" fill="none" stroke="#555" stroke-width="1"/>
<line x1="510.30" y1="10.30" x2="510.30" y2="8.90" stroke="#555" stroke-width="0.8"/>
<line x1="510.30" y1="122.50" x2="510.30" y2="123.90" stroke="#555" stroke-width="0.8"/>
<line x1="523.05" y1="10.30" x2="523.05" y2="8.10" stroke="#555" stroke-width="0.8"/>
<line x1="523.05" y1="122.50" x2="523.05" y2="124.70" stroke="#555" stroke-width="0.8"/>
<line x1="535.79" y1="10.30" x2="535.79" y2="8.90" stroke="#555" stroke-width="0.8"/>
<line x1="535.79" y1="122.50" x2="535.79" y2="123.90" stroke="#555" stroke-width="0.8"/>
<line x1="548.54" y1="10.30" x2="548.54" y2="8.10" stroke="#555" stroke-width="0.8"/>
<line x1="548.54" y1="122.50" x2="548.54" y2="124.70" stroke="#555" stroke-width="0.8"/>
<line x1="561.28" y1="10.30" x2="561.28" y2="8.90" stroke="#555" stroke-width="0.8"/>
<line x1="561.28" y1="122.50" x2="561.28" y2="123.90" stroke="#555" stroke-width="0.8"/>
<line x1="574.03" y1="10.30" x2="574.03" y2="8.10" stroke="#555" stroke-width="0.8"/>
<line x1="574.03" y1="122.50" x2="574.03" y2="124.70" stroke="#555" stroke-width="0.8"/>
<line x1="586.77" y1="10.30" x2="586.77" y2="8.90" stroke="#555" stroke-width="0.8"/>
<line x1="586.77" y1="122.50" x2="586.77" y2="123.90" stroke="#555" stroke-width="0.8"/>
<line x1="599.52" y1="10.30" x2="599.52" y2="8.10" stroke="#555" stroke-width="0.8"/>
<line x1="599.52" y1="122.50" x2="599.52" y2="124.70" stroke="#555" stroke-width="0.8"/>
<line x1="612.26" y1="10.30" x2="612.26" y2="8.90" stroke="#555" stroke-width="0.8"/>
<line x1="612.26" y1="122.50" x2="612.26" y2="123.90" stroke="#555" stroke-width="0.8"/>
<line x1="625.01" y1="10.30" x2="625.01" y2="8.10" stroke="#555" stroke-width="0.8"/>
<line x1="625.01" y1="122.50" x2="625.01" y2="124.70" stroke="#555" stroke-width="0.8"/>
<line x1="637.75" y1="10.30" x2="637.75" y2="8.90" stroke="#555" stroke-width="0.8"/>
<line x1="637.75" y1="122.50" x2="637.75" y2="123.90" stroke="#555" stroke-width="0.8"/>
<line x1="650.50" y1="10.30" x2="650.50" y2="8.10" stroke="#555" stroke-width="0.8"/>
<line x1="650.50" y1="122.50" x2="650.50" y2="124.70" stroke="#555" stroke-width="0.8"/>
<line x1="510.30" y1="122.50" x2="508.10" y2="122.50" stroke="#555" stroke-width="0.8"/>
<line x1="650.50" y1="122.50" x2="652.70" y2="122.50" stroke="#555" stroke-width="0.8"/>
<line x1="510.30" y1="113.15" x2="509.00" y2="113.15" stroke="#555" stroke-width="0.8"/>
<line x1="650.50" y1="113.15" x2="651.80" y2="113.15" stroke="#555" stroke-width="0.8"/>
<line x1="510.30" y1="103.80" x2="508.10" y2="103.80" stroke="#555" stroke-width="0.8"/>
<line x1="650.50" y1="103.80" x2="652.70" y2="103.80" stroke="#555" stroke-width="0.8"/>
<line x1="510.30" y1="94.45" x2="509.00" y2="94.45" stroke="#555" stroke-width="0.8"/>
<line x1="650.50" y1="94.45" x2="651.80" y2="94.45" stroke="#555" stroke-width="0.8"/>
<line x1="510.30" y1="85.10" x2="508.10" y2="85.10" stroke="#555" stroke-width="0.8"/>
<line x1="650.50" y1="85.10" x2="652.70" y2="85.10" stroke="#555" stroke-width="0.8"/>
<line x1="510.30" y1="75.75" x2="509.00" y2="75.75" stroke="#555" stroke-width="0.8"/>
<line x1="650.50" y1="75.75" x2="651.80" y2="75.75" stroke="#555" stroke-width="0.8"/>
<line x1="510.30" y1="66.40" x2="508.10" y2="66.40" stroke="#555" stroke-width="0.8"/>
<line x1="650.50" y1="66.40" x2="652.70" y2="66.40" stroke="#555" stroke-width="0.8"/>
<line x1="510.30" y1="57.05" x2="509.00" y2="57.05" stroke="#555" stroke-width="0.8"/>
<line x1="650.50" y1="57.05" x2="651.80" y2="57.05" stroke="#555" stroke-width="0.8"/>
<line x1="510.30" y1="47.70" x2="508.10" y2="47.70" stroke="#555" stroke-width="0.8"/>
<line x1="650.50" y1="47.70" x2="652.70" y2="47.70" stroke="#555" stroke-width="0.8"/>
<line x1="510.30" y1="38.35" x2="509.00" y2="38.35" stroke="#555" stroke-width="0.8"/>
<line x1="650.50" y1="38.35" x2="651.80" y2="38.35" stroke="#555" stroke-width="0.8"/>
<line x1="510.30" y1="29.00" x2="508.10" y2="29.00" stroke="#555" stroke-width="0.8"/>
<line x1="650.50" y1="29.00" x2="652.70" y2="29.00" stroke="#555" stroke-width="0.8"/>
<line x1="510.30" y1="19.65" x2="509.00" y2="19.65" stroke="#555" stroke-width="0.8"/>
<line x1="650.50" y1="19.65" x2="651.80" y2="19.65" stroke="#555" stroke-width="0.8"/>
<line x1="510.30" y1="10.30" x2="508.10" y2="10.30" stroke="#555" stroke-width="0.8"/>
<line x1="650.50" y1="10.30" x2="652.70" y2="10.30" stroke="#555" stroke-width="0.8"/>
<text x="654.40" y="124.90" font-size="6.8" fill="#333" text-anchor="start">0</text>
<text x="654.40" y="106.20" font-size="6.8" fill="#333" text-anchor="start">20</text>
<text x="654.40" y="87.50" font-size="6.8" fill="#333" text-anchor="start">40</text>
<text x="654.40" y="68.80" font-size="6.8" fill="#333" text-anchor="start">60</text>
<text x="654.40" y="50.10" font-size="6.8" fill="#333" text-anchor="start">80</text>
<text x="654.40" y="31.40" font-size="6.8" fill="#333" text-anchor="start">100</text>
<text x="654.40" y="12.70" font-size="6.8" fill="#333" text-anchor="start">120</text>
<text x="523.05" y="134.00" font-size="10.2" fill="#222" text-anchor="middle">1</text>
<text x="548.54" y="134.00" font-size="10.2" fill="#222" text-anchor="middle">2</text>
<text x="574.03" y="134.00" font-size="10.2" fill="#222" text-anchor="middle">3</text>
<text x="599.52" y="134.00" font-size="10.2" fill="#222" text-anchor="middle">4</text>
<text x="625.01" y="134.00" font-size="10.2" fill="#222" text-anchor="middle">5</text>
<text x="650.50" y="134.00" font-size="10.2" fill="#222" text-anchor="middle">6</text>
<text x="580.00" y="148.30" font-size="11" fill="#222" text-anchor="middle" textLength="114.3" lengthAdjust="spacingAndGlyphs">Defect Separation (nm)</text>
<text transform="translate(680.2,60.8) rotate(-90)" font-size="11.3" fill="#222" text-anchor="middle" textLength="89" lengthAdjust="spacingAndGlyphs">J, Asymmetry (meV)</text>
<polyline points="528.27,10.77 528.78,12.77 529.29,14.71 529.80,16.58 530.31,18.40 530.82,20.15 531.33,21.85 531.84,23.49 532.35,25.09 532.86,26.63 533.37,28.13 533.88,29.59 534.39,31.00 534.90,32.38 535.41,33.71 535.92,35.01 536.43,36.27 536.94,37.50 537.45,38.69 537.96,39.85 538.47,40.99 538.98,42.09 539.49,43.16 540.00,44.21 540.51,45.23 541.02,46.23 541.52,47.20 542.03,48.15 542.54,49.08 543.05,49.98 543.56,50.86 544.07,51.73 544.58,52.57 545.09,53.39 545.60,54.20 546.11,54.99 546.62,55.76 547.13,56.52 547.64,57.25 548.15,57.98 548.66,58.68 549.17,59.38 549.68,60.06 550.19,60.72 550.70,61.37 551.21,62.01 551.72,62.64 552.23,63.25 552.74,63.85 553.25,64.44 553.76,65.02 554.27,65.59 554.78,66.15 555.29,66.69 555.80,67.23 556.31,67.76 556.82,68.28 557.33,68.78 557.84,69.28 558.35,69.78 558.86,70.26 559.37,70.73 559.88,71.20 560.39,71.65 560.90,72.10 561.41,72.55 561.92,72.98 562.43,73.41 562.94,73.83 563.45,74.24 563.96,74.65 564.47,75.05 564.98,75.45 565.49,75.84 566.00,76.22 566.51,76.59 567.02,76.96 567.53,77.33 568.04,77.69 568.55,78.04 569.06,78.39 569.56,78.73 570.07,79.07 570.58,79.41 571.09,79.73 571.60,80.06 572.11,80.38 572.62,80.69 573.13,81.00 573.64,81.31 574.15,81.61 574.66,81.91 575.17,82.20 575.68,82.49 576.19,82.77 576.70,83.06 577.21,83.33 577.72,83.61 578.23,83.88 578.74,84.14 579.25,84.41 579.76,84.67 580.27,84.92 580.78,85.18 581.29,85.43 581.80,85.67 582.31,85.92 582.82,86.16 583.33,86.40 583.84,86.63 584.35,86.86 584.86,87.09 585.37,87.32 585.88,87.54 586.39,87.76 586.90,87.98 587.41,88.19 587.92,88.41 588.43,88.62 588.94,88.82 589.45,89.03 589.96,89.23 590.47,89.43 590.98,89.63 591.49,89.83 592.00,90.02 592.51,90.21 593.02,90.40 593.53,90.59 594.04,90.78 594.55,90.96 595.06,91.14 595.57,91.32 596.08,91.50 596.59,91.67 597.10,91.85 597.60,92.02 598.11,92.19 598.62,92.36 599.13,92.52 599.64,92.69 600.15,92.85 600.66,93.01 601.17,93.17 601.68,93.33 602.19,93.49 602.70,93.64 603.21,93.79 603.72,93.95 604.23,94.10 604.74,94.24 605.25,94.39 605.76,94.54 606.27,94.68 606.78,94.82 607.29,94.97 607.80,95.11 608.31,95.24 608.82,95.38 609.33,95.52 609.84,95.65 610.35,95.79 610.86,95.92 611.37,96.05 611.88,96.18 612.39,96.31 612.90,96.43 613.41,96.56 613.92,96.69 614.43,96.81 614.94,96.93 615.45,97.05 615.96,97.17 616.47,97.29 616.98,97.41 617.49,97.53 618.00,97.65 618.51,97.76 619.02,97.87 619.53,97.99 620.04,98.10 620.55,98.21 621.06,98.32 621.57,98.43 622.08,98.54 622.59,98.65 623.10,98.75 623.61,98.86 624.12,98.96 624.63,99.07 625.14,99.17 625.64,99.27 626.15,99.37 626.66,99.47 627.17,99.57 627.68,99.67 628.19,99.77 628.70,99.87 629.21,99.96 629.72,100.06 630.23,100.15 630.74,100.25 631.25,100.34 631.76,100.43 632.27,100.53 632.78,100.62 633.29,100.71 633.80,100.80 634.31,100.89 634.82,100.98 635.33,101.06 635.84,101.15 636.35,101.24 636.86,101.32 637.37,101.41 637.88,101.49 638.39,101.57 638.90,101.66 639.41,101.74 639.92,101.82 640.43,101.90 640.94,101.98 641.45,102.06 641.96,102.14 642.47,102.22 642.98,102.30 643.49,102.38 644.00,102.45 644.51,102.53 645.02,102.61 645.53,102.68 646.04,102.76 646.55,102.83 647.06,102.90 647.57,102.98 648.08,103.05 648.59,103.12 649.10,103.19 649.61,103.27 650.12,103.34" fill="none" stroke="#222" stroke-width="1.25" stroke-linejoin="round" stroke-dasharray="3.4,2.2"/>
<polyline points="530.44,18.53 563.07,70.33 596.71,91.46 629.60,102.77" fill="none" stroke="#111" stroke-width="1.2" stroke-linejoin="round"/>
<polyline points="530.31,101.09 563.83,116.52 596.71,118.95 629.60,117.45" fill="none" stroke="#c83030" stroke-width="1.2" stroke-linejoin="round"/>
<circle cx="530.44" cy="18.53" r="2.4" fill="#000"/>
<circle cx="563.07" cy="70.33" r="2.4" fill="#000"/>
<circle cx="596.71" cy="91.46" r="2.4" fill="#000"/>
<circle cx="629.60" cy="102.77" r="2.4" fill="#000"/>
<circle cx="530.31" cy="101.09" r="2.4" fill="#e02020"/>
<circle cx="563.83" cy="116.52" r="2.4" fill="#e02020"/>
<circle cx="596.71" cy="118.95" r="2.4" fill="#e02020"/>
<circle cx="629.60" cy="117.45" r="2.4" fill="#e02020"/>
<line x1="594.30" y1="16.20" x2="610.40" y2="16.20" stroke="#111" stroke-width="1"/>
<circle cx="602.6" cy="16.2" r="2.0" fill="#000"/>
<text x="612.00" y="18.70" font-size="6.9" fill="#222" text-anchor="start">J</text>
<line x1="594.30" y1="24.80" x2="610.40" y2="24.80" stroke="#d33" stroke-width="1"/>
<circle cx="602.6" cy="24.8" r="2.0" fill="#e02020"/>
<text x="612.30" y="27.30" font-size="6.9" fill="#222" text-anchor="start" textLength="34.3" lengthAdjust="spacingAndGlyphs">Asymmetry</text>
<text x="561.60" y="55.40" font-size="6.6" fill="#222" text-anchor="start" textLength="22.3" lengthAdjust="spacingAndGlyphs">n = -1.1</text>
<text x="69.80" y="182.10" font-size="14.5" fill="#222" text-anchor="start" textLength="17.4" lengthAdjust="spacingAndGlyphs">(d)</text>
<defs>
<clipPath id="dc0"><rect x="107.2" y="177.3" width="188.8" height="22.899999999999977"/></clipPath>
<clipPath id="dc1"><rect x="107.2" y="199.2" width="188.8" height="23.0"/></clipPath>
<clipPath id="dc2"><rect x="107.2" y="221.2" width="188.8" height="21.100000000000023"/></clipPath>
<clipPath id="dc3"><rect x="107.2" y="241.3" width="188.8" height="22.69999999999999"/></clipPath>
<clipPath id="dc4"><rect x="107.2" y="263.0" width="188.8" height="22.899999999999977"/></clipPath>
<clipPath id="dc5"><rect x="107.2" y="284.9" width="188.8" height="22.700000000000045"/></clipPath>
</defs>
<rect x="107.2" y="177.3" width="188.8" height="129.3" fill="none" stroke="#555" stroke-width="0.9"/>
<line x1="107.20" y1="199.20" x2="296.00" y2="199.20" stroke="#222" stroke-width="1.0"/>
<line x1="107.20" y1="221.20" x2="296.00" y2="221.20" stroke="#a8a8a8" stroke-width="0.9"/>
<line x1="107.20" y1="241.30" x2="296.00" y2="241.30" stroke="#a8a8a8" stroke-width="0.9"/>
<line x1="107.20" y1="263.00" x2="296.00" y2="263.00" stroke="#a8a8a8" stroke-width="0.9"/>
<line x1="107.20" y1="284.90" x2="296.00" y2="284.90" stroke="#a8a8a8" stroke-width="0.9"/>
<line x1="111.97" y1="177.30" x2="111.97" y2="178.70" stroke="#555" stroke-width="0.7"/>
<line x1="119.30" y1="177.30" x2="119.30" y2="178.70" stroke="#555" stroke-width="0.7"/>
<line x1="126.63" y1="177.30" x2="126.63" y2="178.70" stroke="#555" stroke-width="0.7"/>
<line x1="133.97" y1="177.30" x2="133.97" y2="178.70" stroke="#555" stroke-width="0.7"/>
<line x1="141.30" y1="177.30" x2="141.30" y2="179.50" stroke="#555" stroke-width="0.7"/>
<line x1="148.63" y1="177.30" x2="148.63" y2="178.70" stroke="#555" stroke-width="0.7"/>
<line x1="155.97" y1="177.30" x2="155.97" y2="178.70" stroke="#555" stroke-width="0.7"/>
<line x1="163.30" y1="177.30" x2="163.30" y2="178.70" stroke="#555" stroke-width="0.7"/>
<line x1="170.63" y1="177.30" x2="170.63" y2="178.70" stroke="#555" stroke-width="0.7"/>
<line x1="177.97" y1="177.30" x2="177.97" y2="178.70" stroke="#555" stroke-width="0.7"/>
<line x1="185.30" y1="177.30" x2="185.30" y2="179.50" stroke="#555" stroke-width="0.7"/>
<line x1="192.63" y1="177.30" x2="192.63" y2="178.70" stroke="#555" stroke-width="0.7"/>
<line x1="199.97" y1="177.30" x2="199.97" y2="178.70" stroke="#555" stroke-width="0.7"/>
<line x1="207.30" y1="177.30" x2="207.30" y2="178.70" stroke="#555" stroke-width="0.7"/>
<line x1="214.63" y1="177.30" x2="214.63" y2="178.70" stroke="#555" stroke-width="0.7"/>
<line x1="221.97" y1="177.30" x2="221.97" y2="178.70" stroke="#555" stroke-width="0.7"/>
<line x1="229.30" y1="177.30" x2="229.30" y2="179.50" stroke="#555" stroke-width="0.7"/>
<line x1="236.63" y1="177.30" x2="236.63" y2="178.70" stroke="#555" stroke-width="0.7"/>
<line x1="243.97" y1="177.30" x2="243.97" y2="178.70" stroke="#555" stroke-width="0.7"/>
<line x1="251.30" y1="177.30" x2="251.30" y2="178.70" stroke="#555" stroke-width="0.7"/>
<line x1="258.63" y1="177.30" x2="258.63" y2="178.70" stroke="#555" stroke-width="0.7"/>
<line x1="265.97" y1="177.30" x2="265.97" y2="178.70" stroke="#555" stroke-width="0.7"/>
<line x1="273.30" y1="177.30" x2="273.30" y2="179.50" stroke="#555" stroke-width="0.7"/>
<line x1="280.63" y1="177.30" x2="280.63" y2="178.70" stroke="#555" stroke-width="0.7"/>
<line x1="287.97" y1="177.30" x2="287.97" y2="178.70" stroke="#555" stroke-width="0.7"/>
<line x1="295.30" y1="177.30" x2="295.30" y2="178.70" stroke="#555" stroke-width="0.7"/>
<line x1="111.97" y1="199.20" x2="111.97" y2="200.60" stroke="#555" stroke-width="0.7"/>
<line x1="119.30" y1="199.20" x2="119.30" y2="200.60" stroke="#555" stroke-width="0.7"/>
<line x1="126.63" y1="199.20" x2="126.63" y2="200.60" stroke="#555" stroke-width="0.7"/>
<line x1="133.97" y1="199.20" x2="133.97" y2="200.60" stroke="#555" stroke-width="0.7"/>
<line x1="141.30" y1="199.20" x2="141.30" y2="201.40" stroke="#555" stroke-width="0.7"/>
<line x1="148.63" y1="199.20" x2="148.63" y2="200.60" stroke="#555" stroke-width="0.7"/>
<line x1="155.97" y1="199.20" x2="155.97" y2="200.60" stroke="#555" stroke-width="0.7"/>
<line x1="163.30" y1="199.20" x2="163.30" y2="200.60" stroke="#555" stroke-width="0.7"/>
<line x1="170.63" y1="199.20" x2="170.63" y2="200.60" stroke="#555" stroke-width="0.7"/>
<line x1="177.97" y1="199.20" x2="177.97" y2="200.60" stroke="#555" stroke-width="0.7"/>
<line x1="185.30" y1="199.20" x2="185.30" y2="201.40" stroke="#555" stroke-width="0.7"/>
<line x1="192.63" y1="199.20" x2="192.63" y2="200.60" stroke="#555" stroke-width="0.7"/>
<line x1="199.97" y1="199.20" x2="199.97" y2="200.60" stroke="#555" stroke-width="0.7"/>
<line x1="207.30" y1="199.20" x2="207.30" y2="200.60" stroke="#555" stroke-width="0.7"/>
<line x1="214.63" y1="199.20" x2="214.63" y2="200.60" stroke="#555" stroke-width="0.7"/>
<line x1="221.97" y1="199.20" x2="221.97" y2="200.60" stroke="#555" stroke-width="0.7"/>
<line x1="229.30" y1="199.20" x2="229.30" y2="201.40" stroke="#555" stroke-width="0.7"/>
<line x1="236.63" y1="199.20" x2="236.63" y2="200.60" stroke="#555" stroke-width="0.7"/>
<line x1="243.97" y1="199.20" x2="243.97" y2="200.60" stroke="#555" stroke-width="0.7"/>
<line x1="251.30" y1="199.20" x2="251.30" y2="200.60" stroke="#555" stroke-width="0.7"/>
<line x1="258.63" y1="199.20" x2="258.63" y2="200.60" stroke="#555" stroke-width="0.7"/>
<line x1="265.97" y1="199.20" x2="265.97" y2="200.60" stroke="#555" stroke-width="0.7"/>
<line x1="273.30" y1="199.20" x2="273.30" y2="201.40" stroke="#555" stroke-width="0.7"/>
<line x1="280.63" y1="199.20" x2="280.63" y2="200.60" stroke="#555" stroke-width="0.7"/>
<line x1="287.97" y1="199.20" x2="287.97" y2="200.60" stroke="#555" stroke-width="0.7"/>
<line x1="295.30" y1="199.20" x2="295.30" y2="200.60" stroke="#555" stroke-width="0.7"/>
<line x1="108.30" y1="221.20" x2="108.30" y2="222.60" stroke="#555" stroke-width="0.7"/>
<line x1="119.30" y1="221.20" x2="119.30" y2="222.60" stroke="#555" stroke-width="0.7"/>
<line x1="130.30" y1="221.20" x2="130.30" y2="222.60" stroke="#555" stroke-width="0.7"/>
<line x1="141.30" y1="221.20" x2="141.30" y2="223.40" stroke="#555" stroke-width="0.7"/>
<line x1="152.30" y1="221.20" x2="152.30" y2="222.60" stroke="#555" stroke-width="0.7"/>
<line x1="163.30" y1="221.20" x2="163.30" y2="222.60" stroke="#555" stroke-width="0.7"/>
<line x1="174.30" y1="221.20" x2="174.30" y2="222.60" stroke="#555" stroke-width="0.7"/>
<line x1="185.30" y1="221.20" x2="185.30" y2="223.40" stroke="#555" stroke-width="0.7"/>
<line x1="196.30" y1="221.20" x2="196.30" y2="222.60" stroke="#555" stroke-width="0.7"/>
<line x1="207.30" y1="221.20" x2="207.30" y2="222.60" stroke="#555" stroke-width="0.7"/>
<line x1="218.30" y1="221.20" x2="218.30" y2="222.60" stroke="#555" stroke-width="0.7"/>
<line x1="229.30" y1="221.20" x2="229.30" y2="223.40" stroke="#555" stroke-width="0.7"/>
<line x1="240.30" y1="221.20" x2="240.30" y2="222.60" stroke="#555" stroke-width="0.7"/>
<line x1="251.30" y1="221.20" x2="251.30" y2="222.60" stroke="#555" stroke-width="0.7"/>
<line x1="262.30" y1="221.20" x2="262.30" y2="222.60" stroke="#555" stroke-width="0.7"/>
<line x1="273.30" y1="221.20" x2="273.30" y2="223.40" stroke="#555" stroke-width="0.7"/>
<line x1="284.30" y1="221.20" x2="284.30" y2="222.60" stroke="#555" stroke-width="0.7"/>
<line x1="295.30" y1="221.20" x2="295.30" y2="222.60" stroke="#555" stroke-width="0.7"/>
<line x1="108.30" y1="241.30" x2="108.30" y2="242.70" stroke="#555" stroke-width="0.7"/>
<line x1="119.30" y1="241.30" x2="119.30" y2="242.70" stroke="#555" stroke-width="0.7"/>
<line x1="130.30" y1="241.30" x2="130.30" y2="242.70" stroke="#555" stroke-width="0.7"/>
<line x1="141.30" y1="241.30" x2="141.30" y2="243.50" stroke="#555" stroke-width="0.7"/>
<line x1="152.30" y1="241.30" x2="152.30" y2="242.70" stroke="#555" stroke-width="0.7"/>
<line x1="163.30" y1="241.30" x2="163.30" y2="242.70" stroke="#555" stroke-width="0.7"/>
<line x1="174.30" y1="241.30" x2="174.30" y2="242.70" stroke="#555" stroke-width="0.7"/>
<line x1="185.30" y1="241.30" x2="185.30" y2="243.50" stroke="#555" stroke-width="0.7"/>
<line x1="196.30" y1="241.30" x2="196.30" y2="242.70" stroke="#555" stroke-width="0.7"/>
<line x1="207.30" y1="241.30" x2="207.30" y2="242.70" stroke="#555" stroke-width="0.7"/>
<line x1="218.30" y1="241.30" x2="218.30" y2="242.70" stroke="#555" stroke-width="0.7"/>
<line x1="229.30" y1="241.30" x2="229.30" y2="243.50" stroke="#555" stroke-width="0.7"/>
<line x1="240.30" y1="241.30" x2="240.30" y2="242.70" stroke="#555" stroke-width="0.7"/>
<line x1="251.30" y1="241.30" x2="251.30" y2="242.70" stroke="#555" stroke-width="0.7"/>
<line x1="262.30" y1="241.30" x2="262.30" y2="242.70" stroke="#555" stroke-width="0.7"/>
<line x1="273.30" y1="241.30" x2="273.30" y2="243.50" stroke="#555" stroke-width="0.7"/>
<line x1="284.30" y1="241.30" x2="284.30" y2="242.70" stroke="#555" stroke-width="0.7"/>
<line x1="295.30" y1="241.30" x2="295.30" y2="242.70" stroke="#555" stroke-width="0.7"/>
<line x1="108.30" y1="263.00" x2="108.30" y2="264.40" stroke="#555" stroke-width="0.7"/>
<line x1="119.30" y1="263.00" x2="119.30" y2="264.40" stroke="#555" stroke-width="0.7"/>
<line x1="130.30" y1="263.00" x2="130.30" y2="264.40" stroke="#555" stroke-width="0.7"/>
<line x1="141.30" y1="263.00" x2="141.30" y2="265.20" stroke="#555" stroke-width="0.7"/>
<line x1="152.30" y1="263.00" x2="152.30" y2="264.40" stroke="#555" stroke-width="0.7"/>
<line x1="163.30" y1="263.00" x2="163.30" y2="264.40" stroke="#555" stroke-width="0.7"/>
<line x1="174.30" y1="263.00" x2="174.30" y2="264.40" stroke="#555" stroke-width="0.7"/>
<line x1="185.30" y1="263.00" x2="185.30" y2="265.20" stroke="#555" stroke-width="0.7"/>
<line x1="196.30" y1="263.00" x2="196.30" y2="264.40" stroke="#555" stroke-width="0.7"/>
<line x1="207.30" y1="263.00" x2="207.30" y2="264.40" stroke="#555" stroke-width="0.7"/>
<line x1="218.30" y1="263.00" x2="218.30" y2="264.40" stroke="#555" stroke-width="0.7"/>
<line x1="229.30" y1="263.00" x2="229.30" y2="265.20" stroke="#555" stroke-width="0.7"/>
<line x1="240.30" y1="263.00" x2="240.30" y2="264.40" stroke="#555" stroke-width="0.7"/>
<line x1="251.30" y1="263.00" x2="251.30" y2="264.40" stroke="#555" stroke-width="0.7"/>
<line x1="262.30" y1="263.00" x2="262.30" y2="264.40" stroke="#555" stroke-width="0.7"/>
<line x1="273.30" y1="263.00" x2="273.30" y2="265.20" stroke="#555" stroke-width="0.7"/>
<line x1="284.30" y1="263.00" x2="284.30" y2="264.40" stroke="#555" stroke-width="0.7"/>
<line x1="295.30" y1="263.00" x2="295.30" y2="264.40" stroke="#555" stroke-width="0.7"/>
<line x1="108.30" y1="284.90" x2="108.30" y2="286.30" stroke="#555" stroke-width="0.7"/>
<line x1="119.30" y1="284.90" x2="119.30" y2="286.30" stroke="#555" stroke-width="0.7"/>
<line x1="130.30" y1="284.90" x2="130.30" y2="286.30" stroke="#555" stroke-width="0.7"/>
<line x1="141.30" y1="284.90" x2="141.30" y2="287.10" stroke="#555" stroke-width="0.7"/>
<line x1="152.30" y1="284.90" x2="152.30" y2="286.30" stroke="#555" stroke-width="0.7"/>
<line x1="163.30" y1="284.90" x2="163.30" y2="286.30" stroke="#555" stroke-width="0.7"/>
<line x1="174.30" y1="284.90" x2="174.30" y2="286.30" stroke="#555" stroke-width="0.7"/>
<line x1="185.30" y1="284.90" x2="185.30" y2="287.10" stroke="#555" stroke-width="0.7"/>
<line x1="196.30" y1="284.90" x2="196.30" y2="286.30" stroke="#555" stroke-width="0.7"/>
<line x1="207.30" y1="284.90" x2="207.30" y2="286.30" stroke="#555" stroke-width="0.7"/>
<line x1="218.30" y1="284.90" x2="218.30" y2="286.30" stroke="#555" stroke-width="0.7"/>
<line x1="229.30" y1="284.90" x2="229.30" y2="287.10" stroke="#555" stroke-width="0.7"/>
<line x1="240.30" y1="284.90" x2="240.30" y2="286.30" stroke="#555" stroke-width="0.7"/>
<line x1="251.30" y1="284.90" x2="251.30" y2="286.30" stroke="#555" stroke-width="0.7"/>
<line x1="262.30" y1="284.90" x2="262.30" y2="286.30" stroke="#555" stroke-width="0.7"/>
<line x1="273.30" y1="284.90" x2="273.30" y2="287.10" stroke="#555" stroke-width="0.7"/>
<line x1="284.30" y1="284.90" x2="284.30" y2="286.30" stroke="#555" stroke-width="0.7"/>
<line x1="295.30" y1="284.90" x2="295.30" y2="286.30" stroke="#555" stroke-width="0.7"/>
<line x1="108.30" y1="306.60" x2="108.30" y2="307.60" stroke="#555" stroke-width="0.7"/>
<line x1="119.30" y1="306.60" x2="119.30" y2="307.60" stroke="#555" stroke-width="0.7"/>
<line x1="130.30" y1="306.60" x2="130.30" y2="307.60" stroke="#555" stroke-width="0.7"/>
<line x1="141.30" y1="306.60" x2="141.30" y2="308.20" stroke="#555" stroke-width="0.7"/>
<line x1="152.30" y1="306.60" x2="152.30" y2="307.60" stroke="#555" stroke-width="0.7"/>
<line x1="163.30" y1="306.60" x2="163.30" y2="307.60" stroke="#555" stroke-width="0.7"/>
<line x1="174.30" y1="306.60" x2="174.30" y2="307.60" stroke="#555" stroke-width="0.7"/>
<line x1="185.30" y1="306.60" x2="185.30" y2="308.20" stroke="#555" stroke-width="0.7"/>
<line x1="196.30" y1="306.60" x2="196.30" y2="307.60" stroke="#555" stroke-width="0.7"/>
<line x1="207.30" y1="306.60" x2="207.30" y2="307.60" stroke="#555" stroke-width="0.7"/>
<line x1="218.30" y1="306.60" x2="218.30" y2="307.60" stroke="#555" stroke-width="0.7"/>
<line x1="229.30" y1="306.60" x2="229.30" y2="308.20" stroke="#555" stroke-width="0.7"/>
<line x1="240.30" y1="306.60" x2="240.30" y2="307.60" stroke="#555" stroke-width="0.7"/>
<line x1="251.30" y1="306.60" x2="251.30" y2="307.60" stroke="#555" stroke-width="0.7"/>
<line x1="262.30" y1="306.60" x2="262.30" y2="307.60" stroke="#555" stroke-width="0.7"/>
<line x1="273.30" y1="306.60" x2="273.30" y2="308.20" stroke="#555" stroke-width="0.7"/>
<line x1="284.30" y1="306.60" x2="284.30" y2="307.60" stroke="#555" stroke-width="0.7"/>
<line x1="295.30" y1="306.60" x2="295.30" y2="307.60" stroke="#555" stroke-width="0.7"/>
<g clip-path="url(#dc0)">
<line x1="261.86" y1="199.10" x2="261.86" y2="182.00" stroke="#777" stroke-width="1.1"/>
<polyline points="106.10,199.10 106.54,199.10 106.98,199.10 107.42,199.10 107.86,199.10 108.30,199.10 108.74,199.10 109.18,199.10 109.62,199.10 110.06,199.10 110.50,199.10 110.94,199.10 111.38,199.10 111.82,199.10 112.26,199.10 112.70,199.10 113.14,199.10 113.58,199.10 114.02,199.10 114.46,199.10 114.90,199.10 115.34,199.10 115.78,199.10 116.22,199.10 116.66,199.10 117.10,199.10 117.54,199.10 117.98,199.10 118.42,199.10 118.86,199.10 119.30,199.10 119.74,199.10 120.18,199.10 120.62,199.10 121.06,199.10 121.50,199.10 121.94,199.10 122.38,199.10 122.82,199.10 123.26,199.10 123.70,199.10 124.14,199.10 124.58,199.10 125.02,199.10 125.46,199.10 125.90,199.10 126.34,199.10 126.78,199.10 127.22,199.10 127.66,199.10 128.10,199.10 128.54,199.10 128.98,199.10 129.42,199.10 129.86,199.10 130.30,199.10 130.74,199.10 131.18,199.10 131.62,199.10 132.06,199.10 132.50,199.10 132.94,199.10 133.38,199.10 133.82,199.10 134.26,199.10 134.70,199.10 135.14,199.10 135.58,199.10 136.02,199.10 136.46,199.10 136.90,199.10 137.34,199.10 137.78,199.10 138.22,199.10 138.66,199.10 139.10,199.10 139.54,199.10 139.98,199.10 140.42,199.10 140.86,199.10 141.30,199.10 141.74,199.10 142.18,199.10 142.62,199.10 143.06,199.10 143.50,199.10 143.94,199.10 144.38,199.10 144.82,199.10 145.26,199.10 145.70,199.10 146.14,199.10 146.58,199.10 147.02,199.10 147.46,199.10 147.90,199.10 148.34,199.10 148.78,199.10 149.22,199.10 149.66,199.10 150.10,199.10 150.54,199.10 150.98,199.10 151.42,199.10 151.86,199.10 152.30,199.10 152.74,199.10 153.18,199.10 153.62,199.10 154.06,199.10 154.50,199.10 154.94,199.10 155.38,199.10 155.82,199.10 156.26,199.10 156.70,199.10 157.14,199.10 157.58,199.10 158.02,199.10 158.46,199.10 158.90,199.10 159.34,199.10 159.78,199.10 160.22,199.10 160.66,199.10 161.10,199.10 161.54,199.10 161.98,199.10 162.42,199.10 162.86,199.10 163.30,199.10 163.74,199.10 164.18,199.10 164.62,199.10 165.06,199.10 165.50,199.10 165.94,199.10 166.38,199.10 166.82,199.10 167.26,199.10 167.70,199.10 168.14,199.10 168.58,199.10 169.02,199.10 169.46,199.10 169.90,199.10 170.34,199.10 170.78,199.10 171.22,199.10 171.66,199.10 172.10,199.10 172.54,199.10 172.98,199.10 173.42,199.10 173.86,199.10 174.30,199.10 174.74,199.10 175.18,199.10 175.62,199.10 176.06,199.10 176.50,199.10 176.94,199.10 177.38,199.10 177.82,199.10 178.26,199.10 178.70,199.10 179.14,199.10 179.58,199.10 180.02,199.10 180.46,199.10 180.90,199.10 181.34,199.10 181.78,199.10 182.22,199.10 182.66,199.10 183.10,199.10 183.54,199.10 183.98,199.10 184.42,199.10 184.86,199.10 185.30,199.10 185.74,199.10 186.18,199.10 186.62,199.10 187.06,199.10 187.50,199.10 187.94,199.10 188.38,199.10 188.82,199.10 189.26,199.10 189.70,199.10 190.14,199.10 190.58,199.10 191.02,199.10 191.46,199.10 191.90,199.10 192.34,199.10 192.78,199.10 193.22,199.10 193.66,199.10 194.10,199.10 194.54,199.10 194.98,199.10 195.42,199.10 195.86,199.10 196.30,199.10 196.74,199.10 197.18,199.10 197.62,199.10 198.06,199.10 198.50,199.10 198.94,199.10 199.38,199.10 199.82,199.10 200.26,199.10 200.70,199.10 201.14,199.10 201.58,199.10 202.02,199.10 202.46,199.10 202.90,199.10 203.34,199.10 203.78,199.10 204.22,199.10 204.66,199.10 205.10,199.10 205.54,199.10 205.98,199.10 206.42,199.10 206.86,199.10 207.30,199.10 207.74,199.10 208.18,199.10 208.62,199.10 209.06,199.10 209.50,199.10 209.94,199.10 210.38,199.10 210.82,199.10 211.26,199.10 211.70,199.10 212.14,199.10 212.58,199.10 213.02,199.10 213.46,199.10 213.90,199.10 214.34,199.10 214.78,199.10 215.22,199.10 215.66,199.10 216.10,199.10 216.54,199.10 216.98,199.10 217.42,199.10 217.86,199.10 218.30,199.10 218.74,199.10 219.18,199.10 219.62,199.10 220.06,199.10 220.50,199.10 220.94,199.10 221.38,199.10 221.82,199.10 222.26,199.10 222.70,199.10 223.14,199.10 223.58,199.10 224.02,199.10 224.46,199.10 224.90,199.10 225.34,199.10 225.78,199.10 226.22,199.10 226.66,199.10 227.10,199.10 227.54,199.10 227.98,199.10 228.42,199.10 228.86,199.10 229.30,199.10 229.74,199.10 230.18,199.10 230.62,199.10 231.06,199.10 231.50,199.10 231.94,199.10 232.38,199.10 232.82,199.10 233.26,199.10 233.70,199.10 234.14,199.10 234.58,199.10 235.02,199.10 235.46,199.10 235.90,199.10 236.34,199.10 236.78,199.10 237.22,199.10 237.66,199.10 238.10,199.10 238.54,199.10 238.98,199.10 239.42,199.10 239.86,199.10 240.30,199.10 240.74,199.10 241.18,199.09 241.62,199.09 242.06,199.09 242.50,199.08 242.94,199.08 243.38,199.07 243.82,199.06 244.26,199.04 244.70,199.02 245.14,199.00 245.58,198.97 246.02,198.93 246.46,198.88 246.90,198.82 247.34,198.74 247.78,198.64 248.22,198.53 248.66,198.39 249.10,198.22 249.54,198.01 249.98,197.77 250.42,197.49 250.86,197.17 251.30,196.79 251.74,196.36 252.18,195.88 252.62,195.33 253.06,194.73 253.50,194.07 253.94,193.35 254.38,192.57 254.82,191.74 255.26,190.87 255.70,189.95 256.14,189.01 256.58,188.06 257.02,187.10 257.46,186.15 257.90,185.23 258.34,184.35 258.78,183.52 259.22,182.77 259.66,182.11 260.10,181.55 260.54,181.10 260.98,180.77 261.42,180.57 261.86,180.50 262.30,180.57 262.74,180.77 263.18,181.10 263.62,181.55 264.06,182.11 264.50,182.77 264.94,183.52 265.38,184.35 265.82,185.23 266.26,186.15 266.70,187.10 267.14,188.06 267.58,189.01 268.02,189.95 268.46,190.87 268.90,191.74 269.34,192.57 269.78,193.35 270.22,194.07 270.66,194.73 271.10,195.33 271.54,195.88 271.98,196.36 272.42,196.79 272.86,197.17 273.30,197.49 273.74,197.77 274.18,198.01 274.62,198.22 275.06,198.39 275.50,198.53 275.94,198.64 276.38,198.74 276.82,198.82 277.26,198.88 277.70,198.93 278.14,198.97 278.58,199.00 279.02,199.02 279.46,199.04 279.90,199.06 280.34,199.07 280.78,199.08 281.22,199.08 281.66,199.09 282.10,199.09 282.54,199.09 282.98,199.10 283.42,199.10 283.86,199.10 284.30,199.10 284.74,199.10 285.18,199.10 285.62,199.10 286.06,199.10 286.50,199.10 286.94,199.10 287.38,199.10 287.82,199.10 288.26,199.10 288.70,199.10 289.14,199.10 289.58,199.10 290.02,199.10 290.46,199.10 290.90,199.10 291.34,199.10 291.78,199.10 292.22,199.10 292.66,199.10 293.10,199.10 293.54,199.10 293.98,199.10 294.42,199.10 294.86,199.10 295.30,199.10 295.74,199.10 296.18,199.10 296.62,199.10 297.06,199.10 297.50,199.10" fill="none" stroke="#111111" stroke-width="1.3" stroke-linejoin="round"/>
<polygon points="259.06,178.70 264.66,178.70 261.86,182.10" fill="#fff" stroke="#111111" stroke-width="1.1"/>
<polygon points="234.10,197.30 237.70,197.30 235.90,199.70" fill="#fff" stroke="#111111" stroke-width="1.1"/>
<polygon points="237.62,197.30 241.22,197.30 239.42,199.70" fill="#fff" stroke="#111111" stroke-width="1.1"/>
<polygon points="240.48,197.29 244.08,197.29 242.28,199.69" fill="#fff" stroke="#111111" stroke-width="1.1"/>
<polygon points="243.34,197.20 246.94,197.20 245.14,199.60" fill="#fff" stroke="#111111" stroke-width="1.1"/>
<polygon points="249.50,194.99 253.10,194.99 251.30,197.39" fill="#fff" stroke="#111111" stroke-width="1.1"/>
<polygon points="257.64,194.80 261.24,194.80 259.44,197.20" fill="#fff" stroke="#111111" stroke-width="1.1"/>
<polygon points="259.40,194.80 263.00,194.80 261.20,197.20" fill="#fff" stroke="#111111" stroke-width="1.1"/>
<polygon points="269.96,194.80 273.56,194.80 271.76,197.20" fill="#fff" stroke="#111111" stroke-width="1.1"/>
<polygon points="272.82,196.42 276.42,196.42 274.62,198.82" fill="#fff" stroke="#111111" stroke-width="1.1"/>
<polygon points="274.80,196.98 278.40,196.98 276.60,199.38" fill="#fff" stroke="#111111" stroke-width="1.1"/>
<polygon points="281.40,197.30 285.00,197.30 283.20,199.70" fill="#fff" stroke="#111111" stroke-width="1.1"/>
<polygon points="284.26,197.30 287.86,197.30 286.06,199.70" fill="#fff" stroke="#111111" stroke-width="1.1"/>
</g>
<g clip-path="url(#dc1)">
<line x1="186.62" y1="219.10" x2="186.62" y2="210.00" stroke="#b8474c" stroke-width="1.1"/>
<line x1="274.40" y1="219.10" x2="274.40" y2="189.10" stroke="#c86a6a" stroke-width="1.1"/>
<polyline points="106.10,219.10 106.54,219.10 106.98,219.10 107.42,219.10 107.86,219.10 108.30,219.10 108.74,219.10 109.18,219.10 109.62,219.10 110.06,219.10 110.50,219.10 110.94,219.10 111.38,219.10 111.82,219.10 112.26,219.10 112.70,219.10 113.14,219.10 113.58,219.10 114.02,219.10 114.46,219.10 114.90,219.10 115.34,219.10 115.78,219.10 116.22,219.10 116.66,219.10 117.10,219.10 117.54,219.10 117.98,219.10 118.42,219.10 118.86,219.10 119.30,219.10 119.74,219.10 120.18,219.10 120.62,219.10 121.06,219.10 121.50,219.10 121.94,219.10 122.38,219.10 122.82,219.10 123.26,219.10 123.70,219.10 124.14,219.10 124.58,219.10 125.02,219.10 125.46,219.10 125.90,219.10 126.34,219.10 126.78,219.10 127.22,219.10 127.66,219.10 128.10,219.10 128.54,219.10 128.98,219.10 129.42,219.10 129.86,219.10 130.30,219.10 130.74,219.10 131.18,219.10 131.62,219.10 132.06,219.10 132.50,219.10 132.94,219.10 133.38,219.10 133.82,219.10 134.26,219.10 134.70,219.10 135.14,219.10 135.58,219.10 136.02,219.10 136.46,219.10 136.90,219.10 137.34,219.10 137.78,219.10 138.22,219.10 138.66,219.10 139.10,219.10 139.54,219.10 139.98,219.10 140.42,219.10 140.86,219.10 141.30,219.10 141.74,219.10 142.18,219.10 142.62,219.10 143.06,219.10 143.50,219.10 143.94,219.10 144.38,219.10 144.82,219.10 145.26,219.10 145.70,219.10 146.14,219.10 146.58,219.10 147.02,219.10 147.46,219.10 147.90,219.10 148.34,219.10 148.78,219.10 149.22,219.10 149.66,219.10 150.10,219.10 150.54,219.10 150.98,219.10 151.42,219.10 151.86,219.10 152.30,219.10 152.74,219.10 153.18,219.10 153.62,219.10 154.06,219.10 154.50,219.10 154.94,219.10 155.38,219.10 155.82,219.10 156.26,219.10 156.70,219.10 157.14,219.10 157.58,219.10 158.02,219.10 158.46,219.10 158.90,219.10 159.34,219.10 159.78,219.10 160.22,219.10 160.66,219.10 161.10,219.10 161.54,219.10 161.98,219.10 162.42,219.10 162.86,219.10 163.30,219.10 163.74,219.10 164.18,219.10 164.62,219.10 165.06,219.10 165.50,219.09 165.94,219.09 166.38,219.09 166.82,219.08 167.26,219.08 167.70,219.07 168.14,219.06 168.58,219.05 169.02,219.04 169.46,219.02 169.90,219.00 170.34,218.97 170.78,218.93 171.22,218.89 171.66,218.84 172.10,218.78 172.54,218.70 172.98,218.61 173.42,218.50 173.86,218.38 174.30,218.24 174.74,218.07 175.18,217.88 175.62,217.67 176.06,217.42 176.50,217.15 176.94,216.85 177.38,216.52 177.82,216.15 178.26,215.76 178.70,215.34 179.14,214.90 179.58,214.43 180.02,213.94 180.46,213.44 180.90,212.93 181.34,212.41 181.78,211.90 182.22,211.40 182.66,210.92 183.10,210.46 183.54,210.04 183.98,209.65 184.42,209.31 184.86,209.03 185.30,208.80 185.74,208.63 186.18,208.53 186.62,208.50 187.06,208.53 187.50,208.63 187.94,208.80 188.38,209.03 188.82,209.31 189.26,209.65 189.70,210.04 190.14,210.46 190.58,210.92 191.02,211.40 191.46,211.90 191.90,212.41 192.34,212.93 192.78,213.44 193.22,213.94 193.66,214.43 194.10,214.90 194.54,215.34 194.98,215.76 195.42,216.15 195.86,216.52 196.30,216.85 196.74,217.15 197.18,217.42 197.62,217.67 198.06,217.88 198.50,218.07 198.94,218.24 199.38,218.38 199.82,218.50 200.26,218.61 200.70,218.70 201.14,218.78 201.58,218.84 202.02,218.89 202.46,218.93 202.90,218.97 203.34,219.00 203.78,219.02 204.22,219.04 204.66,219.05 205.10,219.06 205.54,219.07 205.98,219.08 206.42,219.08 206.86,219.09 207.30,219.09 207.74,219.09 208.18,219.10 208.62,219.10 209.06,219.10 209.50,219.10 209.94,219.10 210.38,219.10 210.82,219.10 211.26,219.10 211.70,219.10 212.14,219.10 212.58,219.10 213.02,219.10 213.46,219.10 213.90,219.10 214.34,219.10 214.78,219.10 215.22,219.10 215.66,219.10 216.10,219.10 216.54,219.10 216.98,219.10 217.42,219.10 217.86,219.10 218.30,219.10 218.74,219.10 219.18,219.10 219.62,219.10 220.06,219.10 220.50,219.10 220.94,219.10 221.38,219.10 221.82,219.10 222.26,219.10 222.70,219.10 223.14,219.10 223.58,219.10 224.02,219.10 224.46,219.10 224.90,219.10 225.34,219.10 225.78,219.10 226.22,219.10 226.66,219.10 227.10,219.10 227.54,219.10 227.98,219.10 228.42,219.10 228.86,219.10 229.30,219.10 229.74,219.10 230.18,219.10 230.62,219.10 231.06,219.10 231.50,219.10 231.94,219.10 232.38,219.10 232.82,219.10 233.26,219.10 233.70,219.10 234.14,219.10 234.58,219.10 235.02,219.10 235.46,219.10 235.90,219.10 236.34,219.10 236.78,219.10 237.22,219.10 237.66,219.10 238.10,219.10 238.54,219.10 238.98,219.10 239.42,219.10 239.86,219.10 240.30,219.10 240.74,219.10 241.18,219.10 241.62,219.10 242.06,219.10 242.50,219.10 242.94,219.10 243.38,219.10 243.82,219.10 244.26,219.10 244.70,219.10 245.14,219.10 245.58,219.10 246.02,219.10 246.46,219.10 246.90,219.10 247.34,219.10 247.78,219.10 248.22,219.10 248.66,219.10 249.10,219.10 249.54,219.10 249.98,219.10 250.42,219.09 250.86,219.09 251.30,219.09 251.74,219.09 252.18,219.08 252.62,219.07 253.06,219.07 253.50,219.05 253.94,219.04 254.38,219.02 254.82,218.99 255.26,218.96 255.70,218.92 256.14,218.87 256.58,218.80 257.02,218.73 257.46,218.63 257.90,218.52 258.34,218.38 258.78,218.21 259.22,218.02 259.66,217.79 260.10,217.52 260.54,217.20 260.98,216.84 261.42,216.43 261.86,215.95 262.30,215.41 262.74,214.80 263.18,214.12 263.62,213.36 264.06,212.52 264.50,211.60 264.94,210.59 265.38,209.50 265.82,208.33 266.26,207.07 266.70,205.75 267.14,204.35 267.58,202.90 268.02,201.40 268.46,199.87 268.90,198.33 269.34,196.79 269.78,195.27 270.22,193.80 270.66,192.40 271.10,191.08 271.54,189.87 271.98,188.80 272.42,187.87 272.86,187.11 273.30,186.54 273.74,186.16 274.18,185.98 274.62,186.00 275.06,186.24 275.50,186.67 275.94,187.31 276.38,188.12 276.82,189.11 277.26,190.24 277.70,191.51 278.14,192.89 278.58,194.36 279.02,195.90 279.46,197.48 279.90,199.08 280.34,200.68 280.78,202.26 281.22,203.80 281.66,205.29 282.10,206.71 282.54,208.06 282.98,209.33 283.42,210.50 283.86,211.58 284.30,212.57 284.74,213.46 285.18,214.27 285.62,214.98 286.06,215.61 286.50,216.17 286.94,216.65 287.38,217.06 287.82,217.42 288.26,217.72 288.70,217.98 289.14,218.19 289.58,218.37 290.02,218.52 290.46,218.64 290.90,218.73 291.34,218.81 291.78,218.88 292.22,218.93 292.66,218.97 293.10,219.00 293.54,219.02 293.98,219.04 294.42,219.06 294.86,219.07 295.30,219.08 295.74,219.08 296.18,219.09 296.62,219.09 297.06,219.09 297.50,219.10" fill="none" stroke="#b8474c" stroke-width="1.9" stroke-linejoin="round"/>
<polygon points="183.82,206.70 189.42,206.70 186.62,210.10" fill="#fff" stroke="#b8474c" stroke-width="1.1"/>
<polygon points="213.54,216.10 219.54,216.10 216.54,220.10" fill="#fff" stroke="#b8474c" stroke-width="1.1"/>
<circle cx="238.98" cy="217.60" r="2.2" fill="#fff" stroke="#b8474c" stroke-width="1.1"/>
<circle cx="242.72" cy="217.30" r="2.2" fill="#fff" stroke="#b8474c" stroke-width="1.1"/>
<circle cx="246.46" cy="217.30" r="2.2" fill="#fff" stroke="#b8474c" stroke-width="1.1"/>
<circle cx="257.68" cy="217.30" r="2.2" fill="#fff" stroke="#b8474c" stroke-width="1.1"/>
<circle cx="266.92" cy="213.50" r="2.2" fill="#fff" stroke="#b8474c" stroke-width="1.1"/>
<circle cx="265.38" cy="217.40" r="2.2" fill="#fff" stroke="#b8474c" stroke-width="1.1"/>
<circle cx="267.36" cy="217.40" r="2.2" fill="#fff" stroke="#b8474c" stroke-width="1.1"/>
<circle cx="269.34" cy="217.40" r="2.2" fill="#fff" stroke="#b8474c" stroke-width="1.1"/>
<circle cx="280.78" cy="217.40" r="2.2" fill="#fff" stroke="#b8474c" stroke-width="1.1"/>
<circle cx="282.54" cy="217.40" r="2.2" fill="#fff" stroke="#b8474c" stroke-width="1.1"/>
</g>
<g clip-path="url(#dc2)">
<line x1="164.84" y1="240.70" x2="164.84" y2="231.48" stroke="#70ee70" stroke-width="1.1"/>
<line x1="279.20" y1="240.70" x2="279.20" y2="210.70" stroke="#70ee70" stroke-width="1.1"/>
<polyline points="106.10,240.69 106.54,240.69 106.98,240.69 107.42,240.69 107.86,240.69 108.30,240.69 108.74,240.69 109.18,240.69 109.62,240.69 110.06,240.69 110.50,240.69 110.94,240.69 111.38,240.69 111.82,240.69 112.26,240.69 112.70,240.69 113.14,240.69 113.58,240.69 114.02,240.69 114.46,240.69 114.90,240.69 115.34,240.69 115.78,240.69 116.22,240.69 116.66,240.69 117.10,240.69 117.54,240.69 117.98,240.69 118.42,240.69 118.86,240.69 119.30,240.69 119.74,240.69 120.18,240.69 120.62,240.69 121.06,240.69 121.50,240.69 121.94,240.69 122.38,240.69 122.82,240.69 123.26,240.69 123.70,240.69 124.14,240.69 124.58,240.69 125.02,240.69 125.46,240.69 125.90,240.69 126.34,240.69 126.78,240.69 127.22,240.69 127.66,240.69 128.10,240.69 128.54,240.69 128.98,240.69 129.42,240.69 129.86,240.69 130.30,240.69 130.74,240.69 131.18,240.69 131.62,240.69 132.06,240.69 132.50,240.69 132.94,240.69 133.38,240.69 133.82,240.69 134.26,240.69 134.70,240.69 135.14,240.69 135.58,240.69 136.02,240.69 136.46,240.69 136.90,240.69 137.34,240.69 137.78,240.69 138.22,240.69 138.66,240.69 139.10,240.69 139.54,240.69 139.98,240.69 140.42,240.69 140.86,240.69 141.30,240.69 141.74,240.69 142.18,240.69 142.62,240.69 143.06,240.69 143.50,240.68 143.94,240.68 144.38,240.68 144.82,240.68 145.26,240.67 145.70,240.67 146.14,240.66 146.58,240.65 147.02,240.64 147.46,240.63 147.90,240.61 148.34,240.59 148.78,240.56 149.22,240.53 149.66,240.48 150.10,240.43 150.54,240.37 150.98,240.29 151.42,240.20 151.86,240.10 152.30,239.97 152.74,239.83 153.18,239.66 153.62,239.46 154.06,239.24 154.50,238.99 154.94,238.71 155.38,238.39 155.82,238.05 156.26,237.67 156.70,237.26 157.14,236.83 157.58,236.37 158.02,235.88 158.46,235.37 158.90,234.85 159.34,234.33 159.78,233.80 160.22,233.27 160.66,232.76 161.10,232.27 161.54,231.81 161.98,231.39 162.42,231.01 162.86,230.68 163.30,230.41 163.74,230.20 164.18,230.06 164.62,229.99 165.06,229.99 165.50,230.06 165.94,230.20 166.38,230.41 166.82,230.68 167.26,231.01 167.70,231.39 168.14,231.81 168.58,232.27 169.02,232.76 169.46,233.27 169.90,233.79 170.34,234.32 170.78,234.85 171.22,235.37 171.66,235.88 172.10,236.36 172.54,236.82 172.98,237.26 173.42,237.67 173.86,238.04 174.30,238.39 174.74,238.70 175.18,238.98 175.62,239.23 176.06,239.45 176.50,239.65 176.94,239.82 177.38,239.96 177.82,240.09 178.26,240.20 178.70,240.29 179.14,240.36 179.58,240.42 180.02,240.47 180.46,240.52 180.90,240.55 181.34,240.58 181.78,240.60 182.22,240.62 182.66,240.63 183.10,240.64 183.54,240.65 183.98,240.66 184.42,240.66 184.86,240.66 185.30,240.67 185.74,240.67 186.18,240.67 186.62,240.67 187.06,240.67 187.50,240.67 187.94,240.67 188.38,240.67 188.82,240.67 189.26,240.67 189.70,240.67 190.14,240.67 190.58,240.67 191.02,240.67 191.46,240.67 191.90,240.67 192.34,240.67 192.78,240.67 193.22,240.67 193.66,240.67 194.10,240.67 194.54,240.67 194.98,240.67 195.42,240.67 195.86,240.67 196.30,240.67 196.74,240.67 197.18,240.67 197.62,240.67 198.06,240.66 198.50,240.66 198.94,240.66 199.38,240.66 199.82,240.66 200.26,240.66 200.70,240.66 201.14,240.66 201.58,240.66 202.02,240.66 202.46,240.66 202.90,240.66 203.34,240.66 203.78,240.66 204.22,240.66 204.66,240.66 205.10,240.66 205.54,240.66 205.98,240.66 206.42,240.66 206.86,240.65 207.30,240.65 207.74,240.65 208.18,240.65 208.62,240.65 209.06,240.65 209.50,240.65 209.94,240.65 210.38,240.65 210.82,240.65 211.26,240.65 211.70,240.65 212.14,240.65 212.58,240.65 213.02,240.64 213.46,240.64 213.90,240.64 214.34,240.64 214.78,240.64 215.22,240.64 215.66,240.64 216.10,240.64 216.54,240.64 216.98,240.64 217.42,240.64 217.86,240.63 218.30,240.63 218.74,240.63 219.18,240.63 219.62,240.63 220.06,240.63 220.50,240.63 220.94,240.63 221.38,240.63 221.82,240.62 222.26,240.62 222.70,240.62 223.14,240.62 223.58,240.62 224.02,240.62 224.46,240.62 224.90,240.61 225.34,240.61 225.78,240.61 226.22,240.61 226.66,240.61 227.10,240.61 227.54,240.60 227.98,240.60 228.42,240.60 228.86,240.60 229.30,240.60 229.74,240.59 230.18,240.59 230.62,240.59 231.06,240.58 231.50,240.58 231.94,240.57 232.38,240.57 232.82,240.56 233.26,240.55 233.70,240.55 234.14,240.53 234.58,240.52 235.02,240.50 235.46,240.48 235.90,240.46 236.34,240.44 236.78,240.40 237.22,240.37 237.66,240.33 238.10,240.28 238.54,240.23 238.98,240.17 239.42,240.11 239.86,240.04 240.30,239.97 240.74,239.89 241.18,239.82 241.62,239.74 242.06,239.66 242.50,239.59 242.94,239.51 243.38,239.45 243.82,239.39 244.26,239.34 244.70,239.30 245.14,239.26 245.58,239.24 246.02,239.24 246.46,239.24 246.90,239.25 247.34,239.28 247.78,239.31 248.22,239.36 248.66,239.41 249.10,239.46 249.54,239.52 249.98,239.58 250.42,239.64 250.86,239.69 251.30,239.75 251.74,239.80 252.18,239.85 252.62,239.89 253.06,239.92 253.50,239.95 253.94,239.97 254.38,239.98 254.82,239.99 255.26,239.99 255.70,239.99 256.14,239.98 256.58,239.96 257.02,239.94 257.46,239.91 257.90,239.88 258.34,239.85 258.78,239.81 259.22,239.76 259.66,239.71 260.10,239.65 260.54,239.59 260.98,239.52 261.42,239.44 261.86,239.36 262.30,239.26 262.74,239.16 263.18,239.04 263.62,238.92 264.06,238.77 264.50,238.61 264.94,238.43 265.38,238.22 265.82,237.99 266.26,237.72 266.70,237.41 267.14,237.06 267.58,236.65 268.02,236.19 268.46,235.65 268.90,235.04 269.34,234.35 269.78,233.58 270.22,232.72 270.66,231.77 271.10,230.76 271.54,229.69 271.98,228.57 272.42,227.43 272.86,226.29 273.30,225.15 273.74,224.01 274.18,222.87 274.62,221.74 275.06,220.60 275.50,219.47 275.94,218.34 276.38,217.24 276.82,216.19 277.26,215.22 277.70,214.37 278.14,213.68 278.58,213.16 279.02,212.86 279.46,212.79 279.90,212.96 280.34,213.39 280.78,214.05 281.22,214.95 281.66,216.06 282.10,217.36 282.54,218.80 282.98,220.36 283.42,221.99 283.86,223.67 284.30,225.34 284.74,226.98 285.18,228.57 285.62,230.07 286.06,231.47 286.50,232.75 286.94,233.91 287.38,234.95 287.82,235.86 288.26,236.65 288.70,237.33 289.14,237.90 289.58,238.38 290.02,238.78 290.46,239.10 290.90,239.36 291.34,239.58 291.78,239.75 292.22,239.88 292.66,239.99 293.10,240.07 293.54,240.14 293.98,240.19 294.42,240.23 294.86,240.26 295.30,240.29 295.74,240.31 296.18,240.33 296.62,240.35 297.06,240.36 297.50,240.38" fill="none" stroke="#70ee70" stroke-width="1.9" stroke-linejoin="round"/>
<polygon points="162.04,228.18 167.64,228.18 164.84,231.58" fill="#fff" stroke="#70ee70" stroke-width="1.1"/>
<polygon points="199.02,237.66 205.02,237.66 202.02,241.66" fill="#fff" stroke="#70ee70" stroke-width="1.1"/>
<polygon points="207.60,237.65 213.60,237.65 210.60,241.65" fill="#fff" stroke="#70ee70" stroke-width="1.1"/>
<polygon points="232.68,237.47 238.68,237.47 235.68,241.47" fill="#fff" stroke="#70ee70" stroke-width="1.1"/>
<polygon points="241.70,236.30 247.70,236.30 244.70,240.30" fill="#fff" stroke="#70ee70" stroke-width="1.1"/>
<polygon points="246.32,236.49 252.32,236.49 249.32,240.49" fill="#fff" stroke="#70ee70" stroke-width="1.1"/>
<circle cx="253.94" cy="239.20" r="2.2" fill="#fff" stroke="#70ee70" stroke-width="1.1"/>
<circle cx="264.50" cy="238.90" r="2.2" fill="#fff" stroke="#70ee70" stroke-width="1.1"/>
<circle cx="268.90" cy="237.50" r="2.2" fill="#fff" stroke="#70ee70" stroke-width="1.1"/>
<circle cx="272.64" cy="236.90" r="2.2" fill="#fff" stroke="#70ee70" stroke-width="1.1"/>
<circle cx="277.26" cy="236.00" r="2.2" fill="#fff" stroke="#70ee70" stroke-width="1.1"/>
</g>
<g clip-path="url(#dc3)">
<line x1="147.13" y1="262.40" x2="147.13" y2="251.30" stroke="#3838a0" stroke-width="1.1"/>
<polyline points="106.10,262.40 106.54,262.40 106.98,262.40 107.42,262.40 107.86,262.40 108.30,262.40 108.74,262.40 109.18,262.40 109.62,262.40 110.06,262.40 110.50,262.40 110.94,262.40 111.38,262.40 111.82,262.40 112.26,262.40 112.70,262.40 113.14,262.40 113.58,262.40 114.02,262.40 114.46,262.40 114.90,262.40 115.34,262.40 115.78,262.40 116.22,262.40 116.66,262.40 117.10,262.40 117.54,262.40 117.98,262.40 118.42,262.40 118.86,262.40 119.30,262.40 119.74,262.40 120.18,262.40 120.62,262.40 121.06,262.40 121.50,262.40 121.94,262.40 122.38,262.40 122.82,262.40 123.26,262.40 123.70,262.40 124.14,262.40 124.58,262.40 125.02,262.40 125.46,262.40 125.90,262.39 126.34,262.39 126.78,262.39 127.22,262.39 127.66,262.38 128.10,262.38 128.54,262.37 128.98,262.36 129.42,262.34 129.86,262.33 130.30,262.30 130.74,262.28 131.18,262.24 131.62,262.20 132.06,262.15 132.50,262.08 132.94,262.01 133.38,261.91 133.82,261.80 134.26,261.67 134.70,261.52 135.14,261.34 135.58,261.13 136.02,260.89 136.46,260.62 136.90,260.32 137.34,259.98 137.78,259.60 138.22,259.19 138.66,258.73 139.10,258.25 139.54,257.72 139.98,257.17 140.42,256.59 140.86,255.99 141.30,255.38 141.74,254.76 142.18,254.14 142.62,253.52 143.06,252.93 143.50,252.36 143.94,251.82 144.38,251.34 144.82,250.91 145.26,250.54 145.70,250.24 146.14,250.01 146.58,249.87 147.02,249.80 147.46,249.82 147.90,249.93 148.34,250.11 148.78,250.38 149.22,250.71 149.66,251.11 150.10,251.57 150.54,252.09 150.98,252.64 151.42,253.22 151.86,253.83 152.30,254.45 152.74,255.07 153.18,255.69 153.62,256.30 154.06,256.89 154.50,257.45 154.94,257.99 155.38,258.49 155.82,258.96 156.26,259.40 156.70,259.79 157.14,260.15 157.58,260.48 158.02,260.76 158.46,261.02 158.90,261.24 159.34,261.43 159.78,261.60 160.22,261.74 160.66,261.86 161.10,261.96 161.54,262.05 161.98,262.12 162.42,262.17 162.86,262.22 163.30,262.26 163.74,262.29 164.18,262.32 164.62,262.33 165.06,262.35 165.50,262.36 165.94,262.37 166.38,262.38 166.82,262.38 167.26,262.39 167.70,262.39 168.14,262.39 168.58,262.40 169.02,262.40 169.46,262.40 169.90,262.40 170.34,262.40 170.78,262.40 171.22,262.40 171.66,262.40 172.10,262.40 172.54,262.40 172.98,262.40 173.42,262.40 173.86,262.40 174.30,262.40 174.74,262.40 175.18,262.40 175.62,262.40 176.06,262.40 176.50,262.40 176.94,262.40 177.38,262.40 177.82,262.40 178.26,262.40 178.70,262.40 179.14,262.40 179.58,262.40 180.02,262.40 180.46,262.40 180.90,262.40 181.34,262.40 181.78,262.40 182.22,262.40 182.66,262.40 183.10,262.40 183.54,262.40 183.98,262.40 184.42,262.40 184.86,262.40 185.30,262.40 185.74,262.40 186.18,262.40 186.62,262.40 187.06,262.40 187.50,262.40 187.94,262.40 188.38,262.40 188.82,262.40 189.26,262.40 189.70,262.40 190.14,262.40 190.58,262.40 191.02,262.40 191.46,262.40 191.90,262.40 192.34,262.40 192.78,262.40 193.22,262.40 193.66,262.40 194.10,262.40 194.54,262.40 194.98,262.40 195.42,262.40 195.86,262.40 196.30,262.40 196.74,262.40 197.18,262.40 197.62,262.40 198.06,262.40 198.50,262.40 198.94,262.40 199.38,262.40 199.82,262.40 200.26,262.40 200.70,262.40 201.14,262.40 201.58,262.40 202.02,262.40 202.46,262.40 202.90,262.40 203.34,262.40 203.78,262.40 204.22,262.40 204.66,262.40 205.10,262.40 205.54,262.40 205.98,262.40 206.42,262.40 206.86,262.40 207.30,262.40 207.74,262.40 208.18,262.40 208.62,262.40 209.06,262.40 209.50,262.40 209.94,262.40 210.38,262.40 210.82,262.40 211.26,262.40 211.70,262.40 212.14,262.40 212.58,262.40 213.02,262.40 213.46,262.40 213.90,262.40 214.34,262.40 214.78,262.40 215.22,262.40 215.66,262.40 216.10,262.40 216.54,262.40 216.98,262.40 217.42,262.40 217.86,262.40 218.30,262.40 218.74,262.40 219.18,262.40 219.62,262.40 220.06,262.40 220.50,262.40 220.94,262.40 221.38,262.40 221.82,262.40 222.26,262.40 222.70,262.40 223.14,262.40 223.58,262.40 224.02,262.40 224.46,262.40 224.90,262.40 225.34,262.40 225.78,262.40 226.22,262.40 226.66,262.40 227.10,262.40 227.54,262.40 227.98,262.40 228.42,262.40 228.86,262.40 229.30,262.40 229.74,262.40 230.18,262.40 230.62,262.40 231.06,262.40 231.50,262.40 231.94,262.40 232.38,262.40 232.82,262.40 233.26,262.40 233.70,262.40 234.14,262.40 234.58,262.40 235.02,262.40 235.46,262.40 235.90,262.40 236.34,262.40 236.78,262.40 237.22,262.40 237.66,262.40 238.10,262.40 238.54,262.40 238.98,262.40 239.42,262.40 239.86,262.40 240.30,262.40 240.74,262.40 241.18,262.40 241.62,262.40 242.06,262.40 242.50,262.40 242.94,262.40 243.38,262.40 243.82,262.40 244.26,262.40 244.70,262.40 245.14,262.39 245.58,262.39 246.02,262.39 246.46,262.39 246.90,262.38 247.34,262.38 247.78,262.38 248.22,262.37 248.66,262.36 249.10,262.36 249.54,262.35 249.98,262.33 250.42,262.32 250.86,262.30 251.30,262.28 251.74,262.26 252.18,262.23 252.62,262.20 253.06,262.16 253.50,262.12 253.94,262.07 254.38,262.02 254.82,261.96 255.26,261.88 255.70,261.80 256.14,261.72 256.58,261.62 257.02,261.51 257.46,261.39 257.90,261.25 258.34,261.11 258.78,260.95 259.22,260.78 259.66,260.60 260.10,260.41 260.54,260.21 260.98,259.99 261.42,259.76 261.86,259.53 262.30,259.29 262.74,259.04 263.18,258.78 263.62,258.53 264.06,258.27 264.50,258.01 264.94,257.76 265.38,257.51 265.82,257.27 266.26,257.04 266.70,256.82 267.14,256.62 267.58,256.44 268.02,256.28 268.46,256.13 268.90,256.02 269.34,255.92 269.78,255.85 270.22,255.81 270.66,255.80 271.10,255.81 271.54,255.85 271.98,255.92 272.42,256.02 272.86,256.13 273.30,256.28 273.74,256.44 274.18,256.62 274.62,256.82 275.06,257.04 275.50,257.27 275.94,257.51 276.38,257.76 276.82,258.01 277.26,258.27 277.70,258.53 278.14,258.78 278.58,259.04 279.02,259.29 279.46,259.53 279.90,259.76 280.34,259.99 280.78,260.21 281.22,260.41 281.66,260.60 282.10,260.78 282.54,260.95 282.98,261.11 283.42,261.25 283.86,261.39 284.30,261.51 284.74,261.62 285.18,261.72 285.62,261.80 286.06,261.88 286.50,261.96 286.94,262.02 287.38,262.07 287.82,262.12 288.26,262.16 288.70,262.20 289.14,262.23 289.58,262.26 290.02,262.28 290.46,262.30 290.90,262.32 291.34,262.33 291.78,262.35 292.22,262.36 292.66,262.36 293.10,262.37 293.54,262.38 293.98,262.38 294.42,262.38 294.86,262.39 295.30,262.39 295.74,262.39 296.18,262.39 296.62,262.40 297.06,262.40 297.50,262.40" fill="none" stroke="#3838a0" stroke-width="1.9" stroke-linejoin="round"/>
<polygon points="144.33,248.00 149.93,248.00 147.13,251.40" fill="#fff" stroke="#3838a0" stroke-width="1.1"/>
<polygon points="193.30,259.40 199.30,259.40 196.30,263.40" fill="#fff" stroke="#3838a0" stroke-width="1.1"/>
<polygon points="197.04,259.40 203.04,259.40 200.04,263.40" fill="#fff" stroke="#3838a0" stroke-width="1.1"/>
<polygon points="217.50,259.40 223.50,259.40 220.50,263.40" fill="#fff" stroke="#3838a0" stroke-width="1.1"/>
<polygon points="220.14,259.40 226.14,259.40 223.14,263.40" fill="#fff" stroke="#3838a0" stroke-width="1.1"/>
<polygon points="235.98,259.40 241.98,259.40 238.98,263.40" fill="#fff" stroke="#3838a0" stroke-width="1.1"/>
<polygon points="241.26,259.40 247.26,259.40 244.26,263.40" fill="#fff" stroke="#3838a0" stroke-width="1.1"/>
<polygon points="247.20,259.33 253.20,259.33 250.20,263.33" fill="#fff" stroke="#3838a0" stroke-width="1.1"/>
<polygon points="253.14,258.72 259.14,258.72 256.14,262.72" fill="#fff" stroke="#3838a0" stroke-width="1.1"/>
<polygon points="258.42,256.90 264.42,256.90 261.42,260.90" fill="#fff" stroke="#3838a0" stroke-width="1.1"/>
<circle cx="265.82" cy="258.40" r="2.2" fill="#fff" stroke="#3838a0" stroke-width="1.1"/>
<circle cx="270.44" cy="257.60" r="2.2" fill="#fff" stroke="#3838a0" stroke-width="1.1"/>
<circle cx="274.84" cy="258.20" r="2.2" fill="#fff" stroke="#3838a0" stroke-width="1.1"/>
<circle cx="270.44" cy="260.90" r="2.2" fill="#fff" stroke="#3838a0" stroke-width="1.1"/>
<circle cx="267.80" cy="260.70" r="2.2" fill="#fff" stroke="#3838a0" stroke-width="1.1"/>
</g>
<g clip-path="url(#dc4)">
<line x1="136.35" y1="284.20" x2="136.35" y2="271.50" stroke="#78e6dc" stroke-width="1.1"/>
<polyline points="106.10,284.20 106.54,284.20 106.98,284.20 107.42,284.20 107.86,284.20 108.30,284.20 108.74,284.20 109.18,284.20 109.62,284.20 110.06,284.20 110.50,284.20 110.94,284.20 111.38,284.20 111.82,284.20 112.26,284.20 112.70,284.20 113.14,284.20 113.58,284.20 114.02,284.20 114.46,284.19 114.90,284.19 115.34,284.19 115.78,284.19 116.22,284.18 116.66,284.18 117.10,284.17 117.54,284.16 117.98,284.15 118.42,284.13 118.86,284.11 119.30,284.08 119.74,284.05 120.18,284.01 120.62,283.96 121.06,283.90 121.50,283.83 121.94,283.74 122.38,283.64 122.82,283.51 123.26,283.36 123.70,283.19 124.14,282.99 124.58,282.76 125.02,282.50 125.46,282.20 125.90,281.86 126.34,281.49 126.78,281.07 127.22,280.62 127.66,280.12 128.10,279.59 128.54,279.02 128.98,278.41 129.42,277.78 129.86,277.12 130.30,276.45 130.74,275.76 131.18,275.07 131.62,274.39 132.06,273.72 132.50,273.09 132.94,272.48 133.38,271.93 133.82,271.43 134.26,270.99 134.70,270.62 135.14,270.34 135.58,270.14 136.02,270.03 136.46,270.00 136.90,270.07 137.34,270.23 137.78,270.47 138.22,270.80 138.66,271.20 139.10,271.67 139.54,272.20 139.98,272.78 140.42,273.40 140.86,274.05 141.30,274.73 141.74,275.42 142.18,276.10 142.62,276.79 143.06,277.45 143.50,278.10 143.94,278.72 144.38,279.31 144.82,279.86 145.26,280.38 145.70,280.85 146.14,281.29 146.58,281.68 147.02,282.04 147.46,282.35 147.90,282.63 148.34,282.88 148.78,283.10 149.22,283.28 149.66,283.44 150.10,283.58 150.54,283.69 150.98,283.79 151.42,283.87 151.86,283.93 152.30,283.99 152.74,284.03 153.18,284.07 153.62,284.10 154.06,284.12 154.50,284.14 154.94,284.15 155.38,284.16 155.82,284.17 156.26,284.18 156.70,284.18 157.14,284.19 157.58,284.19 158.02,284.19 158.46,284.20 158.90,284.20 159.34,284.20 159.78,284.20 160.22,284.20 160.66,284.20 161.10,284.20 161.54,284.20 161.98,284.20 162.42,284.20 162.86,284.20 163.30,284.20 163.74,284.20 164.18,284.20 164.62,284.20 165.06,284.20 165.50,284.20 165.94,284.20 166.38,284.20 166.82,284.20 167.26,284.20 167.70,284.20 168.14,284.20 168.58,284.20 169.02,284.20 169.46,284.20 169.90,284.20 170.34,284.20 170.78,284.20 171.22,284.20 171.66,284.20 172.10,284.20 172.54,284.20 172.98,284.20 173.42,284.20 173.86,284.20 174.30,284.20 174.74,284.20 175.18,284.20 175.62,284.20 176.06,284.20 176.50,284.20 176.94,284.20 177.38,284.20 177.82,284.20 178.26,284.20 178.70,284.20 179.14,284.20 179.58,284.20 180.02,284.20 180.46,284.20 180.90,284.20 181.34,284.20 181.78,284.20 182.22,284.20 182.66,284.20 183.10,284.20 183.54,284.20 183.98,284.20 184.42,284.20 184.86,284.20 185.30,284.20 185.74,284.20 186.18,284.20 186.62,284.20 187.06,284.20 187.50,284.20 187.94,284.20 188.38,284.20 188.82,284.20 189.26,284.20 189.70,284.20 190.14,284.20 190.58,284.20 191.02,284.20 191.46,284.20 191.90,284.20 192.34,284.20 192.78,284.20 193.22,284.20 193.66,284.20 194.10,284.20 194.54,284.20 194.98,284.20 195.42,284.20 195.86,284.20 196.30,284.20 196.74,284.20 197.18,284.20 197.62,284.20 198.06,284.20 198.50,284.20 198.94,284.20 199.38,284.20 199.82,284.20 200.26,284.20 200.70,284.20 201.14,284.20 201.58,284.20 202.02,284.20 202.46,284.20 202.90,284.20 203.34,284.20 203.78,284.20 204.22,284.20 204.66,284.20 205.10,284.20 205.54,284.20 205.98,284.20 206.42,284.20 206.86,284.20 207.30,284.20 207.74,284.20 208.18,284.20 208.62,284.20 209.06,284.20 209.50,284.20 209.94,284.20 210.38,284.20 210.82,284.20 211.26,284.20 211.70,284.20 212.14,284.20 212.58,284.20 213.02,284.20 213.46,284.20 213.90,284.20 214.34,284.20 214.78,284.20 215.22,284.20 215.66,284.20 216.10,284.20 216.54,284.20 216.98,284.20 217.42,284.20 217.86,284.20 218.30,284.20 218.74,284.20 219.18,284.20 219.62,284.20 220.06,284.20 220.50,284.20 220.94,284.20 221.38,284.20 221.82,284.20 222.26,284.20 222.70,284.20 223.14,284.20 223.58,284.20 224.02,284.20 224.46,284.20 224.90,284.20 225.34,284.20 225.78,284.20 226.22,284.20 226.66,284.20 227.10,284.20 227.54,284.20 227.98,284.20 228.42,284.20 228.86,284.20 229.30,284.20 229.74,284.20 230.18,284.20 230.62,284.20 231.06,284.20 231.50,284.20 231.94,284.20 232.38,284.20 232.82,284.20 233.26,284.20 233.70,284.20 234.14,284.20 234.58,284.20 235.02,284.20 235.46,284.20 235.90,284.20 236.34,284.20 236.78,284.20 237.22,284.20 237.66,284.20 238.10,284.20 238.54,284.20 238.98,284.20 239.42,284.20 239.86,284.20 240.30,284.20 240.74,284.20 241.18,284.20 241.62,284.20 242.06,284.20 242.50,284.20 242.94,284.20 243.38,284.20 243.82,284.20 244.26,284.20 244.70,284.20 245.14,284.20 245.58,284.20 246.02,284.20 246.46,284.20 246.90,284.20 247.34,284.20 247.78,284.20 248.22,284.20 248.66,284.20 249.10,284.20 249.54,284.20 249.98,284.20 250.42,284.20 250.86,284.20 251.30,284.20 251.74,284.20 252.18,284.20 252.62,284.19 253.06,284.19 253.50,284.19 253.94,284.19 254.38,284.19 254.82,284.18 255.26,284.18 255.70,284.17 256.14,284.16 256.58,284.15 257.02,284.14 257.46,284.13 257.90,284.12 258.34,284.10 258.78,284.08 259.22,284.05 259.66,284.03 260.10,284.00 260.54,283.96 260.98,283.92 261.42,283.88 261.86,283.83 262.30,283.78 262.74,283.73 263.18,283.67 263.62,283.61 264.06,283.54 264.50,283.47 264.94,283.40 265.38,283.33 265.82,283.25 266.26,283.18 266.70,283.11 267.14,283.04 267.58,282.98 268.02,282.92 268.46,282.86 268.90,282.82 269.34,282.77 269.78,282.74 270.22,282.72 270.66,282.70 271.10,282.70 271.54,282.70 271.98,282.72 272.42,282.74 272.86,282.77 273.30,282.82 273.74,282.86 274.18,282.92 274.62,282.98 275.06,283.04 275.50,283.11 275.94,283.18 276.38,283.25 276.82,283.33 277.26,283.40 277.70,283.47 278.14,283.54 278.58,283.61 279.02,283.67 279.46,283.73 279.90,283.78 280.34,283.83 280.78,283.88 281.22,283.92 281.66,283.96 282.10,284.00 282.54,284.03 282.98,284.05 283.42,284.08 283.86,284.10 284.30,284.12 284.74,284.13 285.18,284.14 285.62,284.15 286.06,284.16 286.50,284.17 286.94,284.18 287.38,284.18 287.82,284.19 288.26,284.19 288.70,284.19 289.14,284.19 289.58,284.19 290.02,284.20 290.46,284.20 290.90,284.20 291.34,284.20 291.78,284.20 292.22,284.20 292.66,284.20 293.10,284.20 293.54,284.20 293.98,284.20 294.42,284.20 294.86,284.20 295.30,284.20 295.74,284.20 296.18,284.20 296.62,284.20 297.06,284.20 297.50,284.20" fill="none" stroke="#78e6dc" stroke-width="1.9" stroke-linejoin="round"/>
<polygon points="133.55,268.20 139.15,268.20 136.35,271.60" fill="#fff" stroke="#78e6dc" stroke-width="1.1"/>
<polygon points="178.34,281.20 184.34,281.20 181.34,285.20" fill="#fff" stroke="#78e6dc" stroke-width="1.1"/>
<polygon points="193.52,281.20 199.52,281.20 196.52,285.20" fill="#fff" stroke="#78e6dc" stroke-width="1.1"/>
<polygon points="204.52,281.20 210.52,281.20 207.52,285.20" fill="#fff" stroke="#78e6dc" stroke-width="1.1"/>
<polygon points="210.46,281.20 216.46,281.20 213.46,285.20" fill="#fff" stroke="#78e6dc" stroke-width="1.1"/>
<polygon points="230.70,281.20 236.70,281.20 233.70,285.20" fill="#fff" stroke="#78e6dc" stroke-width="1.1"/>
<polygon points="236.64,281.20 242.64,281.20 239.64,285.20" fill="#fff" stroke="#78e6dc" stroke-width="1.1"/>
<polygon points="243.46,281.20 249.46,281.20 246.46,285.20" fill="#fff" stroke="#78e6dc" stroke-width="1.1"/>
<polygon points="247.86,281.20 253.86,281.20 250.86,285.20" fill="#fff" stroke="#78e6dc" stroke-width="1.1"/>
<polygon points="257.54,280.96 263.54,280.96 260.54,284.96" fill="#fff" stroke="#78e6dc" stroke-width="1.1"/>
<polygon points="261.50,280.47 267.50,280.47 264.50,284.47" fill="#fff" stroke="#78e6dc" stroke-width="1.1"/>
<circle cx="266.70" cy="281.80" r="2.2" fill="#fff" stroke="#78e6dc" stroke-width="1.1"/>
<circle cx="269.56" cy="281.40" r="2.2" fill="#fff" stroke="#78e6dc" stroke-width="1.1"/>
<circle cx="273.30" cy="280.20" r="2.2" fill="#fff" stroke="#78e6dc" stroke-width="1.1"/>
</g>
<g clip-path="url(#dc5)">
<line x1="131.18" y1="306.00" x2="131.18" y2="291.10" stroke="#cd64e1" stroke-width="1.1"/>
<polyline points="106.10,306.00 106.54,306.00 106.98,306.00 107.42,305.99 107.86,305.99 108.30,305.99 108.74,305.99 109.18,305.98 109.62,305.98 110.06,305.97 110.50,305.96 110.94,305.95 111.38,305.94 111.82,305.92 112.26,305.90 112.70,305.87 113.14,305.84 113.58,305.80 114.02,305.75 114.46,305.69 114.90,305.62 115.34,305.53 115.78,305.43 116.22,305.31 116.66,305.17 117.10,305.01 117.54,304.83 117.98,304.61 118.42,304.37 118.86,304.09 119.30,303.78 119.74,303.43 120.18,303.05 120.62,302.62 121.06,302.16 121.50,301.65 121.94,301.11 122.38,300.53 122.82,299.91 123.26,299.26 123.70,298.58 124.14,297.87 124.58,297.15 125.02,296.42 125.46,295.68 125.90,294.95 126.34,294.23 126.78,293.53 127.22,292.87 127.66,292.24 128.10,291.66 128.54,291.14 128.98,290.69 129.42,290.30 129.86,290.00 130.30,289.78 130.74,289.64 131.18,289.60 131.62,289.64 132.06,289.78 132.50,290.00 132.94,290.30 133.38,290.69 133.82,291.14 134.26,291.66 134.70,292.24 135.14,292.87 135.58,293.53 136.02,294.23 136.46,294.95 136.90,295.68 137.34,296.42 137.78,297.15 138.22,297.87 138.66,298.58 139.10,299.26 139.54,299.91 139.98,300.53 140.42,301.11 140.86,301.65 141.30,302.16 141.74,302.62 142.18,303.05 142.62,303.43 143.06,303.78 143.50,304.09 143.94,304.37 144.38,304.61 144.82,304.83 145.26,305.01 145.70,305.17 146.14,305.31 146.58,305.43 147.02,305.53 147.46,305.62 147.90,305.69 148.34,305.75 148.78,305.80 149.22,305.84 149.66,305.87 150.10,305.90 150.54,305.92 150.98,305.94 151.42,305.95 151.86,305.96 152.30,305.97 152.74,305.98 153.18,305.98 153.62,305.99 154.06,305.99 154.50,305.99 154.94,305.99 155.38,306.00 155.82,306.00 156.26,306.00 156.70,306.00 157.14,306.00 157.58,306.00 158.02,306.00 158.46,306.00 158.90,306.00 159.34,306.00 159.78,306.00 160.22,306.00 160.66,306.00 161.10,306.00 161.54,306.00 161.98,306.00 162.42,306.00 162.86,306.00 163.30,306.00 163.74,306.00 164.18,306.00 164.62,306.00 165.06,306.00 165.50,306.00 165.94,306.00 166.38,306.00 166.82,306.00 167.26,306.00 167.70,306.00 168.14,306.00 168.58,306.00 169.02,306.00 169.46,306.00 169.90,306.00 170.34,306.00 170.78,306.00 171.22,306.00 171.66,306.00 172.10,306.00 172.54,306.00 172.98,306.00 173.42,306.00 173.86,306.00 174.30,306.00 174.74,306.00 175.18,306.00 175.62,306.00 176.06,306.00 176.50,306.00 176.94,306.00 177.38,306.00 177.82,306.00 178.26,306.00 178.70,306.00 179.14,306.00 179.58,306.00 180.02,306.00 180.46,306.00 180.90,306.00 181.34,306.00 181.78,306.00 182.22,306.00 182.66,306.00 183.10,306.00 183.54,306.00 183.98,306.00 184.42,306.00 184.86,306.00 185.30,306.00 185.74,306.00 186.18,306.00 186.62,306.00 187.06,306.00 187.50,306.00 187.94,306.00 188.38,306.00 188.82,306.00 189.26,306.00 189.70,306.00 190.14,306.00 190.58,306.00 191.02,306.00 191.46,306.00 191.90,306.00 192.34,306.00 192.78,306.00 193.22,306.00 193.66,306.00 194.10,306.00 194.54,306.00 194.98,306.00 195.42,306.00 195.86,306.00 196.30,306.00 196.74,306.00 197.18,306.00 197.62,306.00 198.06,306.00 198.50,306.00 198.94,306.00 199.38,306.00 199.82,306.00 200.26,306.00 200.70,306.00 201.14,306.00 201.58,306.00 202.02,306.00 202.46,306.00 202.90,306.00 203.34,306.00 203.78,306.00 204.22,306.00 204.66,306.00 205.10,306.00 205.54,306.00 205.98,306.00 206.42,306.00 206.86,306.00 207.30,306.00 207.74,306.00 208.18,306.00 208.62,306.00 209.06,306.00 209.50,306.00 209.94,306.00 210.38,306.00 210.82,306.00 211.26,306.00 211.70,306.00 212.14,306.00 212.58,306.00 213.02,306.00 213.46,306.00 213.90,306.00 214.34,306.00 214.78,306.00 215.22,306.00 215.66,306.00 216.10,306.00 216.54,306.00 216.98,306.00 217.42,306.00 217.86,306.00 218.30,306.00 218.74,306.00 219.18,306.00 219.62,306.00 220.06,306.00 220.50,306.00 220.94,306.00 221.38,306.00 221.82,306.00 222.26,306.00 222.70,306.00 223.14,306.00 223.58,306.00 224.02,306.00 224.46,306.00 224.90,306.00 225.34,306.00 225.78,306.00 226.22,306.00 226.66,306.00 227.10,306.00 227.54,306.00 227.98,306.00 228.42,306.00 228.86,306.00 229.30,306.00 229.74,306.00 230.18,306.00 230.62,306.00 231.06,306.00 231.50,306.00 231.94,306.00 232.38,306.00 232.82,306.00 233.26,306.00 233.70,306.00 234.14,306.00 234.58,306.00 235.02,306.00 235.46,306.00 235.90,306.00 236.34,306.00 236.78,306.00 237.22,306.00 237.66,306.00 238.10,306.00 238.54,306.00 238.98,306.00 239.42,306.00 239.86,306.00 240.30,306.00 240.74,306.00 241.18,306.00 241.62,306.00 242.06,306.00 242.50,306.00 242.94,306.00 243.38,306.00 243.82,306.00 244.26,306.00 244.70,306.00 245.14,306.00 245.58,306.00 246.02,306.00 246.46,306.00 246.90,306.00 247.34,306.00 247.78,306.00 248.22,306.00 248.66,306.00 249.10,306.00 249.54,306.00 249.98,306.00 250.42,306.00 250.86,306.00 251.30,306.00 251.74,306.00 252.18,306.00 252.62,306.00 253.06,306.00 253.50,306.00 253.94,306.00 254.38,306.00 254.82,306.00 255.26,306.00 255.70,306.00 256.14,306.00 256.58,306.00 257.02,306.00 257.46,306.00 257.90,306.00 258.34,306.00 258.78,306.00 259.22,306.00 259.66,306.00 260.10,306.00 260.54,306.00 260.98,306.00 261.42,306.00 261.86,306.00 262.30,306.00 262.74,306.00 263.18,306.00 263.62,306.00 264.06,306.00 264.50,306.00 264.94,306.00 265.38,306.00 265.82,306.00 266.26,306.00 266.70,306.00 267.14,306.00 267.58,306.00 268.02,306.00 268.46,306.00 268.90,306.00 269.34,306.00 269.78,306.00 270.22,306.00 270.66,306.00 271.10,306.00 271.54,306.00 271.98,306.00 272.42,306.00 272.86,306.00 273.30,306.00 273.74,306.00 274.18,306.00 274.62,306.00 275.06,306.00 275.50,306.00 275.94,306.00 276.38,306.00 276.82,306.00 277.26,306.00 277.70,306.00 278.14,306.00 278.58,306.00 279.02,306.00 279.46,306.00 279.90,306.00 280.34,306.00 280.78,306.00 281.22,306.00 281.66,306.00 282.10,306.00 282.54,306.00 282.98,306.00 283.42,306.00 283.86,306.00 284.30,306.00 284.74,306.00 285.18,306.00 285.62,306.00 286.06,306.00 286.50,306.00 286.94,306.00 287.38,306.00 287.82,306.00 288.26,306.00 288.70,306.00 289.14,306.00 289.58,306.00 290.02,306.00 290.46,306.00 290.90,306.00 291.34,306.00 291.78,306.00 292.22,306.00 292.66,306.00 293.10,306.00 293.54,306.00 293.98,306.00 294.42,306.00 294.86,306.00 295.30,306.00 295.74,306.00 296.18,306.00 296.62,306.00 297.06,306.00 297.50,306.00" fill="none" stroke="#cd64e1" stroke-width="1.9" stroke-linejoin="round"/>
<polygon points="128.38,287.80 133.98,287.80 131.18,291.20" fill="#fff" stroke="#cd64e1" stroke-width="1.1"/>
<polygon points="162.50,303.00 168.50,303.00 165.50,307.00" fill="#fff" stroke="#cd64e1" stroke-width="1.1"/>
<polygon points="191.54,303.00 197.54,303.00 194.54,307.00" fill="#fff" stroke="#cd64e1" stroke-width="1.1"/>
<polygon points="196.38,303.00 202.38,303.00 199.38,307.00" fill="#fff" stroke="#cd64e1" stroke-width="1.1"/>
<polygon points="198.58,303.00 204.58,303.00 201.58,307.00" fill="#fff" stroke="#cd64e1" stroke-width="1.1"/>
<polygon points="206.72,303.00 212.72,303.00 209.72,307.00" fill="#fff" stroke="#cd64e1" stroke-width="1.1"/>
<polygon points="217.94,303.00 223.94,303.00 220.94,307.00" fill="#fff" stroke="#cd64e1" stroke-width="1.1"/>
<polygon points="222.34,303.00 228.34,303.00 225.34,307.00" fill="#fff" stroke="#cd64e1" stroke-width="1.1"/>
<polygon points="228.50,303.00 234.50,303.00 231.50,307.00" fill="#fff" stroke="#cd64e1" stroke-width="1.1"/>
<polygon points="237.30,303.00 243.30,303.00 240.30,307.00" fill="#fff" stroke="#cd64e1" stroke-width="1.1"/>
<polygon points="240.38,303.00 246.38,303.00 243.38,307.00" fill="#fff" stroke="#cd64e1" stroke-width="1.1"/>
<polygon points="245.00,303.00 251.00,303.00 248.00,307.00" fill="#fff" stroke="#cd64e1" stroke-width="1.1"/>
<polygon points="254.68,303.00 260.68,303.00 257.68,307.00" fill="#fff" stroke="#cd64e1" stroke-width="1.1"/>
<polygon points="258.42,303.00 264.42,303.00 261.42,307.00" fill="#fff" stroke="#cd64e1" stroke-width="1.1"/>
<circle cx="265.82" cy="304.40" r="2.2" fill="#fff" stroke="#cd64e1" stroke-width="1.1"/>
<circle cx="272.64" cy="304.40" r="2.2" fill="#fff" stroke="#cd64e1" stroke-width="1.1"/>
</g>
<line x1="186.62" y1="210.50" x2="186.62" y2="306.30" stroke="#b8474c" stroke-width="1.2"/>
<text x="105.80" y="180.00" font-size="7.2" fill="#222" text-anchor="end">50</text>
<text x="105.80" y="190.40" font-size="7.2" fill="#222" text-anchor="end">25</text>
<text x="105.80" y="201.60" font-size="7.2" fill="#222" text-anchor="end">0</text>
<line x1="105.60" y1="188.30" x2="107.20" y2="188.30" stroke="#333" stroke-width="0.7"/>
<text x="105.80" y="221.60" font-size="7.2" fill="#222" text-anchor="end">0</text>
<text x="105.80" y="210.70" font-size="7.2" fill="#222" text-anchor="end">10</text>
<line x1="105.60" y1="219.10" x2="107.20" y2="219.10" stroke="#333" stroke-width="0.7"/>
<line x1="105.60" y1="208.20" x2="107.20" y2="208.20" stroke="#333" stroke-width="0.7"/>
<text x="105.80" y="243.20" font-size="7.2" fill="#222" text-anchor="end">0</text>
<text x="105.80" y="232.20" font-size="7.2" fill="#222" text-anchor="end">10</text>
<line x1="105.60" y1="240.70" x2="107.20" y2="240.70" stroke="#333" stroke-width="0.7"/>
<line x1="105.60" y1="229.70" x2="107.20" y2="229.70" stroke="#333" stroke-width="0.7"/>
<text x="105.80" y="264.90" font-size="7.2" fill="#222" text-anchor="end">0</text>
<text x="105.80" y="252.70" font-size="7.2" fill="#222" text-anchor="end">10</text>
<line x1="105.60" y1="262.40" x2="107.20" y2="262.40" stroke="#333" stroke-width="0.7"/>
<line x1="105.60" y1="250.20" x2="107.20" y2="250.20" stroke="#333" stroke-width="0.7"/>
<text x="105.80" y="286.70" font-size="7.2" fill="#222" text-anchor="end">0</text>
<text x="105.80" y="274.80" font-size="7.2" fill="#222" text-anchor="end">10</text>
<line x1="105.60" y1="284.20" x2="107.20" y2="284.20" stroke="#333" stroke-width="0.7"/>
<line x1="105.60" y1="272.30" x2="107.20" y2="272.30" stroke="#333" stroke-width="0.7"/>
<text x="105.80" y="308.50" font-size="7.2" fill="#222" text-anchor="end">0</text>
<text x="105.80" y="296.00" font-size="7.2" fill="#222" text-anchor="end">10</text>
<line x1="105.60" y1="306.00" x2="107.20" y2="306.00" stroke="#333" stroke-width="0.7"/>
<line x1="105.60" y1="293.50" x2="107.20" y2="293.50" stroke="#333" stroke-width="0.7"/>
<text x="109.90" y="188.40" font-size="8.4" fill="#222" text-anchor="start" textLength="35.2" lengthAdjust="spacingAndGlyphs">0 Defects</text>
<text x="110.30" y="211.40" font-size="8.8" fill="#222" text-anchor="start">1</text>
<text x="110.30" y="232.40" font-size="8.8" fill="#222" text-anchor="start">2</text>
<text x="110.30" y="253.40" font-size="8.8" fill="#222" text-anchor="start">3</text>
<text x="110.30" y="274.50" font-size="8.8" fill="#222" text-anchor="start">4</text>
<text x="110.30" y="296.00" font-size="8.8" fill="#222" text-anchor="start">5</text>
<text x="141.30" y="317.40" font-size="8.0" fill="#222" text-anchor="middle">1.4</text>
<text x="185.30" y="317.40" font-size="8.0" fill="#222" text-anchor="middle">1.6</text>
<text x="229.30" y="317.40" font-size="8.0" fill="#222" text-anchor="middle">1.8</text>
<text x="273.30" y="317.40" font-size="8.0" fill="#222" text-anchor="middle">2</text>
<text x="201.90" y="327.60" font-size="9.6" fill="#222" text-anchor="middle" textLength="53.8" lengthAdjust="spacingAndGlyphs">Energy (eV)</text>
<text transform="translate(95.2,237) rotate(-90)" font-size="10.2" fill="#222" text-anchor="middle" textLength="86" lengthAdjust="spacingAndGlyphs">Oscillator Strength</text>
<text x="386.70" y="181.70" font-size="14.5" fill="#222" text-anchor="start" textLength="16.9" lengthAdjust="spacingAndGlyphs">(e)</text>
<rect x="424.5" y="176.4" width="156.5" height="125.9" fill="none" stroke="#333" stroke-width="1"/>
<line x1="432.30" y1="184.70" x2="442.50" y2="184.70" stroke="#333" stroke-width="1"/>
<line x1="432.30" y1="192.20" x2="442.50" y2="192.20" stroke="#4a4a4a" stroke-width="1.9"/>
<line x1="432.30" y1="197.40" x2="442.50" y2="197.40" stroke="#333" stroke-width="1"/>
<line x1="432.30" y1="201.00" x2="442.50" y2="201.00" stroke="#222" stroke-width="2.0"/>
<line x1="432.30" y1="208.70" x2="442.50" y2="208.70" stroke="#6a6a6a" stroke-width="1.1"/>
<line x1="432.30" y1="213.90" x2="442.50" y2="213.90" stroke="#5a5a5a" stroke-width="1.1"/>
<line x1="432.30" y1="217.30" x2="442.50" y2="217.30" stroke="#333" stroke-width="1"/>
<line x1="458.50" y1="186.30" x2="468.70" y2="186.30" stroke="#5a5a5a" stroke-width="2.0"/>
<line x1="458.50" y1="191.20" x2="468.70" y2="191.20" stroke="#333" stroke-width="1"/>
<line x1="458.50" y1="196.50" x2="468.70" y2="196.50" stroke="#111" stroke-width="2.2"/>
<line x1="458.50" y1="203.10" x2="468.70" y2="203.10" stroke="#333" stroke-width="1"/>
<line x1="458.50" y1="211.20" x2="468.70" y2="211.20" stroke="#404040" stroke-width="1"/>
<line x1="458.50" y1="214.20" x2="468.70" y2="214.20" stroke="#333" stroke-width="1"/>
<line x1="458.50" y1="216.90" x2="468.70" y2="216.90" stroke="#6a6a6a" stroke-width="1.2"/>
<line x1="458.50" y1="232.60" x2="468.70" y2="232.60" stroke="#444" stroke-width="1"/>
<line x1="458.50" y1="253.80" x2="468.70" y2="253.80" stroke="#404040" stroke-width="1"/>
<line x1="484.50" y1="188.70" x2="494.70" y2="188.70" stroke="#4a4a4a" stroke-width="1.8"/>
<line x1="484.50" y1="193.40" x2="494.70" y2="193.40" stroke="#6a6a6a" stroke-width="1.4"/>
<line x1="484.50" y1="195.40" x2="494.70" y2="195.40" stroke="#4a4a4a" stroke-width="1.5"/>
<line x1="484.50" y1="197.60" x2="494.70" y2="197.60" stroke="#333" stroke-width="1.9"/>
<line x1="484.50" y1="206.20" x2="494.70" y2="206.20" stroke="#404040" stroke-width="1.6"/>
<line x1="484.50" y1="212.60" x2="494.70" y2="212.60" stroke="#222" stroke-width="1.6"/>
<line x1="484.50" y1="219.30" x2="494.70" y2="219.30" stroke="#333" stroke-width="1"/>
<line x1="484.50" y1="236.50" x2="494.70" y2="236.50" stroke="#333" stroke-width="1"/>
<line x1="484.50" y1="243.50" x2="494.70" y2="243.50" stroke="#222" stroke-width="1"/>
<line x1="484.50" y1="269.30" x2="494.70" y2="269.30" stroke="#222" stroke-width="1.1"/>
<line x1="510.70" y1="191.20" x2="520.90" y2="191.20" stroke="#222" stroke-width="1"/>
<line x1="510.70" y1="195.00" x2="520.90" y2="195.00" stroke="#4a4a4a" stroke-width="1.3"/>
<line x1="510.70" y1="198.00" x2="520.90" y2="198.00" stroke="#5a5a5a" stroke-width="1.3"/>
<line x1="510.70" y1="201.00" x2="520.90" y2="201.00" stroke="#4a4a4a" stroke-width="1.3"/>
<line x1="510.70" y1="204.40" x2="520.90" y2="204.40" stroke="#222" stroke-width="1"/>
<line x1="510.70" y1="208.70" x2="520.90" y2="208.70" stroke="#4a4a4a" stroke-width="1.3"/>
<line x1="510.70" y1="213.20" x2="520.90" y2="213.20" stroke="#4a4a4a" stroke-width="1.3"/>
<line x1="510.70" y1="217.10" x2="520.90" y2="217.10" stroke="#444" stroke-width="1"/>
<line x1="510.70" y1="227.60" x2="520.90" y2="227.60" stroke="#555" stroke-width="1.1"/>
<line x1="510.70" y1="229.60" x2="520.90" y2="229.60" stroke="#555" stroke-width="1.1"/>
<line x1="510.70" y1="244.20" x2="520.90" y2="244.20" stroke="#333" stroke-width="1"/>
<line x1="510.70" y1="247.30" x2="520.90" y2="247.30" stroke="#333" stroke-width="1"/>
<line x1="510.70" y1="281.60" x2="520.90" y2="281.60" stroke="#333" stroke-width="1"/>
<line x1="536.70" y1="192.00" x2="546.90" y2="192.00" stroke="#404040" stroke-width="1"/>
<line x1="536.70" y1="194.20" x2="546.90" y2="194.20" stroke="#444" stroke-width="1"/>
<line x1="536.70" y1="196.20" x2="546.90" y2="196.20" stroke="#444" stroke-width="1"/>
<line x1="536.70" y1="198.40" x2="546.90" y2="198.40" stroke="#404040" stroke-width="1"/>
<line x1="536.70" y1="201.40" x2="546.90" y2="201.40" stroke="#333" stroke-width="1"/>
<line x1="536.70" y1="208.70" x2="546.90" y2="208.70" stroke="#777" stroke-width="1.3"/>
<line x1="536.70" y1="211.40" x2="546.90" y2="211.40" stroke="#333" stroke-width="1"/>
<line x1="536.70" y1="215.90" x2="546.90" y2="215.90" stroke="#777" stroke-width="1.3"/>
<line x1="536.70" y1="219.90" x2="546.90" y2="219.90" stroke="#333" stroke-width="2"/>
<line x1="536.70" y1="234.40" x2="546.90" y2="234.40" stroke="#333" stroke-width="1"/>
<line x1="536.70" y1="239.30" x2="546.90" y2="239.30" stroke="#333" stroke-width="1"/>
<line x1="536.70" y1="246.80" x2="546.90" y2="246.80" stroke="#6a6a6a" stroke-width="1.2"/>
<line x1="536.70" y1="257.60" x2="546.90" y2="257.60" stroke="#444" stroke-width="1"/>
<line x1="536.70" y1="289.10" x2="546.90" y2="289.10" stroke="#333" stroke-width="1"/>
<line x1="562.80" y1="193.00" x2="573.00" y2="193.00" stroke="#6a6a6a" stroke-width="1.2"/>
<line x1="562.80" y1="197.50" x2="573.00" y2="197.50" stroke="#333" stroke-width="1"/>
<line x1="562.80" y1="203.40" x2="573.00" y2="203.40" stroke="#111" stroke-width="1.2"/>
<line x1="562.80" y1="210.80" x2="573.00" y2="210.80" stroke="#5a5a5a" stroke-width="1.3"/>
<line x1="562.80" y1="214.80" x2="573.00" y2="214.80" stroke="#333" stroke-width="1.8"/>
<line x1="562.80" y1="221.70" x2="573.00" y2="221.70" stroke="#5a5a5a" stroke-width="1.3"/>
<line x1="562.80" y1="226.30" x2="573.00" y2="226.30" stroke="#444" stroke-width="1"/>
<line x1="562.80" y1="230.00" x2="573.00" y2="230.00" stroke="#4a4a4a" stroke-width="1"/>
<line x1="562.80" y1="237.50" x2="573.00" y2="237.50" stroke="#333" stroke-width="1"/>
<line x1="562.80" y1="244.30" x2="573.00" y2="244.30" stroke="#333" stroke-width="1"/>
<line x1="562.80" y1="248.20" x2="573.00" y2="248.20" stroke="#444" stroke-width="1"/>
<line x1="562.80" y1="268.90" x2="573.00" y2="268.90" stroke="#5a5a5a" stroke-width="1.2"/>
<line x1="562.80" y1="293.30" x2="573.00" y2="293.30" stroke="#333" stroke-width="1"/>
<line x1="437.40" y1="176.40" x2="437.40" y2="174.60" stroke="#444" stroke-width="0.8"/>
<line x1="437.40" y1="302.30" x2="437.40" y2="304.10" stroke="#444" stroke-width="0.8"/>
<line x1="463.60" y1="176.40" x2="463.60" y2="174.60" stroke="#444" stroke-width="0.8"/>
<line x1="463.60" y1="302.30" x2="463.60" y2="304.10" stroke="#444" stroke-width="0.8"/>
<line x1="489.60" y1="176.40" x2="489.60" y2="174.60" stroke="#444" stroke-width="0.8"/>
<line x1="489.60" y1="302.30" x2="489.60" y2="304.10" stroke="#444" stroke-width="0.8"/>
<line x1="515.80" y1="176.40" x2="515.80" y2="174.60" stroke="#444" stroke-width="0.8"/>
<line x1="515.80" y1="302.30" x2="515.80" y2="304.10" stroke="#444" stroke-width="0.8"/>
<line x1="541.80" y1="176.40" x2="541.80" y2="174.60" stroke="#444" stroke-width="0.8"/>
<line x1="541.80" y1="302.30" x2="541.80" y2="304.10" stroke="#444" stroke-width="0.8"/>
<line x1="567.90" y1="176.40" x2="567.90" y2="174.60" stroke="#444" stroke-width="0.8"/>
<line x1="567.90" y1="302.30" x2="567.90" y2="304.10" stroke="#444" stroke-width="0.8"/>
<line x1="424.50" y1="302.30" x2="422.50" y2="302.30" stroke="#444" stroke-width="0.8"/>
<line x1="581.00" y1="302.30" x2="583.00" y2="302.30" stroke="#444" stroke-width="0.8"/>
<line x1="424.50" y1="294.43" x2="423.30" y2="294.43" stroke="#444" stroke-width="0.8"/>
<line x1="581.00" y1="294.43" x2="582.20" y2="294.43" stroke="#444" stroke-width="0.8"/>
<line x1="424.50" y1="286.56" x2="422.50" y2="286.56" stroke="#444" stroke-width="0.8"/>
<line x1="581.00" y1="286.56" x2="583.00" y2="286.56" stroke="#444" stroke-width="0.8"/>
<line x1="424.50" y1="278.69" x2="423.30" y2="278.69" stroke="#444" stroke-width="0.8"/>
<line x1="581.00" y1="278.69" x2="582.20" y2="278.69" stroke="#444" stroke-width="0.8"/>
<line x1="424.50" y1="270.83" x2="422.50" y2="270.83" stroke="#444" stroke-width="0.8"/>
<line x1="581.00" y1="270.83" x2="583.00" y2="270.83" stroke="#444" stroke-width="0.8"/>
<line x1="424.50" y1="262.96" x2="423.30" y2="262.96" stroke="#444" stroke-width="0.8"/>
<line x1="581.00" y1="262.96" x2="582.20" y2="262.96" stroke="#444" stroke-width="0.8"/>
<line x1="424.50" y1="255.09" x2="422.50" y2="255.09" stroke="#444" stroke-width="0.8"/>
<line x1="581.00" y1="255.09" x2="583.00" y2="255.09" stroke="#444" stroke-width="0.8"/>
<line x1="424.50" y1="247.22" x2="423.30" y2="247.22" stroke="#444" stroke-width="0.8"/>
<line x1="581.00" y1="247.22" x2="582.20" y2="247.22" stroke="#444" stroke-width="0.8"/>
<line x1="424.50" y1="239.35" x2="422.50" y2="239.35" stroke="#444" stroke-width="0.8"/>
<line x1="581.00" y1="239.35" x2="583.00" y2="239.35" stroke="#444" stroke-width="0.8"/>
<line x1="424.50" y1="231.48" x2="423.30" y2="231.48" stroke="#444" stroke-width="0.8"/>
<line x1="581.00" y1="231.48" x2="582.20" y2="231.48" stroke="#444" stroke-width="0.8"/>
<line x1="424.50" y1="223.61" x2="422.50" y2="223.61" stroke="#444" stroke-width="0.8"/>
<line x1="581.00" y1="223.61" x2="583.00" y2="223.61" stroke="#444" stroke-width="0.8"/>
<line x1="424.50" y1="215.74" x2="423.30" y2="215.74" stroke="#444" stroke-width="0.8"/>
<line x1="581.00" y1="215.74" x2="582.20" y2="215.74" stroke="#444" stroke-width="0.8"/>
<line x1="424.50" y1="207.88" x2="422.50" y2="207.88" stroke="#444" stroke-width="0.8"/>
<line x1="581.00" y1="207.88" x2="583.00" y2="207.88" stroke="#444" stroke-width="0.8"/>
<line x1="424.50" y1="200.01" x2="423.30" y2="200.01" stroke="#444" stroke-width="0.8"/>
<line x1="581.00" y1="200.01" x2="582.20" y2="200.01" stroke="#444" stroke-width="0.8"/>
<line x1="424.50" y1="192.14" x2="422.50" y2="192.14" stroke="#444" stroke-width="0.8"/>
<line x1="581.00" y1="192.14" x2="583.00" y2="192.14" stroke="#444" stroke-width="0.8"/>
<line x1="424.50" y1="184.27" x2="423.30" y2="184.27" stroke="#444" stroke-width="0.8"/>
<line x1="581.00" y1="184.27" x2="582.20" y2="184.27" stroke="#444" stroke-width="0.8"/>
<line x1="424.50" y1="176.40" x2="422.50" y2="176.40" stroke="#444" stroke-width="0.8"/>
<line x1="581.00" y1="176.40" x2="583.00" y2="176.40" stroke="#444" stroke-width="0.8"/>
<text x="420.30" y="304.50" font-size="7.4" fill="#222" text-anchor="end">1.3</text>
<text x="420.30" y="288.76" font-size="7.4" fill="#222" text-anchor="end">1.4</text>
<text x="420.30" y="273.03" font-size="7.4" fill="#222" text-anchor="end">1.5</text>
<text x="420.30" y="257.29" font-size="7.4" fill="#222" text-anchor="end">1.6</text>
<text x="420.30" y="241.55" font-size="7.4" fill="#222" text-anchor="end">1.7</text>
<text x="420.30" y="225.81" font-size="7.4" fill="#222" text-anchor="end">1.8</text>
<text x="420.30" y="210.07" font-size="7.4" fill="#222" text-anchor="end">1.9</text>
<text x="420.30" y="194.34" font-size="7.4" fill="#222" text-anchor="end">2</text>
<text x="420.30" y="178.60" font-size="7.4" fill="#222" text-anchor="end">2.1</text>
<text x="437.40" y="313.30" font-size="8.2" fill="#222" text-anchor="middle">0</text>
<text x="463.60" y="313.30" font-size="8.2" fill="#222" text-anchor="middle">1</text>
<text x="489.60" y="313.30" font-size="8.2" fill="#222" text-anchor="middle">2</text>
<text x="515.80" y="313.30" font-size="8.2" fill="#222" text-anchor="middle">3</text>
<text x="541.80" y="313.30" font-size="8.2" fill="#222" text-anchor="middle">4</text>
<text x="567.90" y="313.30" font-size="8.2" fill="#222" text-anchor="middle">5</text>
<text x="502.70" y="324.60" font-size="9.4" fill="#222" text-anchor="middle" textLength="163.7" lengthAdjust="spacingAndGlyphs">Number of Type-1 Defects 1.3 nm Apart</text>
<text transform="translate(406.3,239.2) rotate(-90)" font-size="8.8" fill="#222" text-anchor="middle" textLength="79" lengthAdjust="spacingAndGlyphs">Exciton Energy (eV)</text>
<polyline points="484.2,243.6 468.8,254.4 485.1,268.8" fill="none" stroke="#c85050" stroke-width="1.1" stroke-dasharray="3.2,2.2"/>
<line x1="489.50" y1="245.50" x2="489.50" y2="267.40" stroke="#4a4aa0" stroke-width="0.9"/>
<polygon points="489.5,243.6 488,247 491,247" fill="#3a3aa8"/>
<polygon points="489.5,269.3 488,265.9 491,265.9" fill="#3a3aa8"/>
<text x="479.30" y="259.70" font-size="8.2" fill="#4646a6" text-anchor="start" textLength="7.8" lengthAdjust="spacingAndGlyphs">2J</text>
</svg></body></html>
